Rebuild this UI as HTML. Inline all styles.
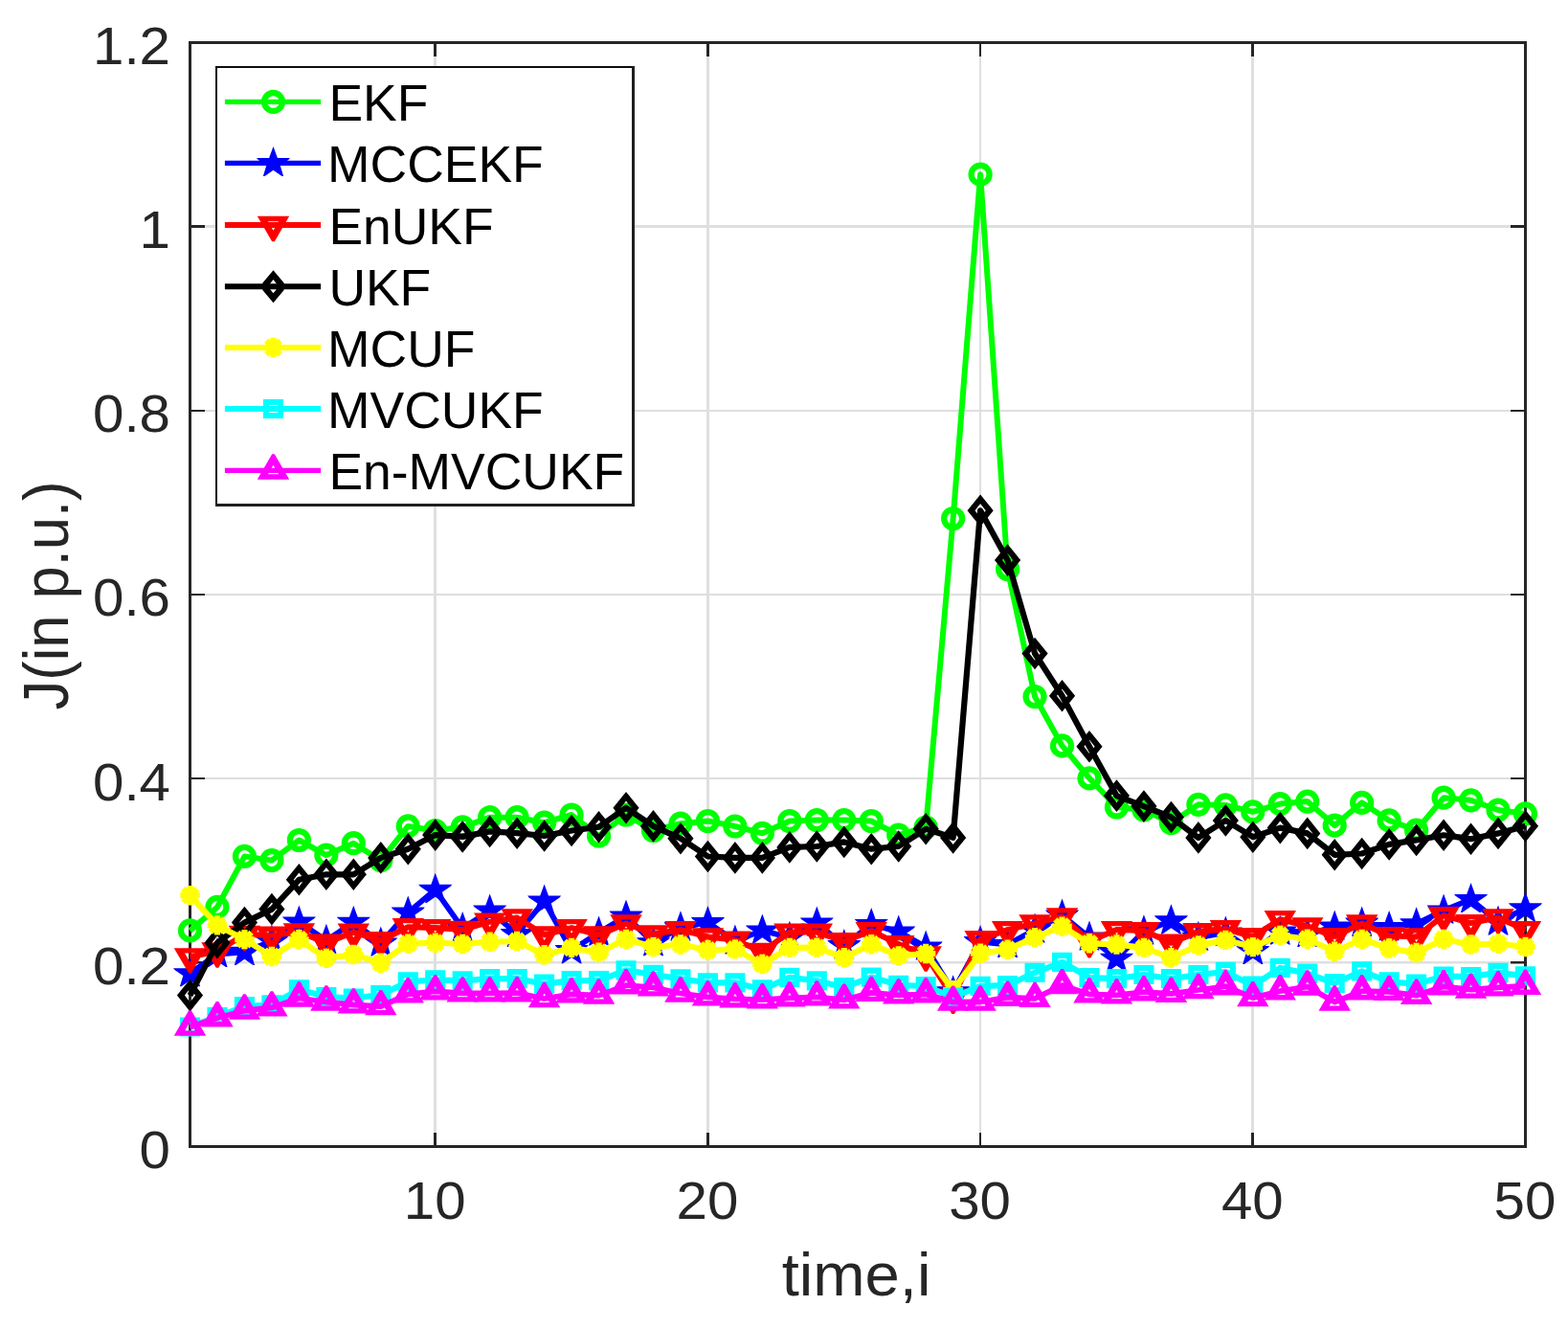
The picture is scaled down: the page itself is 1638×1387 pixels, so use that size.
<!DOCTYPE html>
<html lang="en"><head><meta charset="utf-8"><title>J (in p.u.) versus time</title>
<style>html,body{margin:0;padding:0;background:#fff}body{width:1638px;height:1387px;overflow:hidden}svg{display:block}text{font-family:"Liberation Sans",Arial,Helvetica,sans-serif}</style>
</head><body>
<svg width="1638" height="1387" viewBox="0 0 1638 1387">
<rect width="1638" height="1387" fill="#ffffff"/>
<path d="M454.5,44.5V1197.5" fill="none" stroke="#dfdfdf" stroke-width="3"/>
<path d="M739.5,44.5V1197.5" fill="none" stroke="#dfdfdf" stroke-width="3"/>
<path d="M1024,44.5V1197.5" fill="none" stroke="#dfdfdf" stroke-width="2"/>
<path d="M1308.5,44.5V1197.5" fill="none" stroke="#dfdfdf" stroke-width="3"/>
<path d="M198.5,1005.2H1593.5" fill="none" stroke="#dfdfdf" stroke-width="2.5"/>
<path d="M198.5,813H1593.5" fill="none" stroke="#dfdfdf" stroke-width="2"/>
<path d="M198.5,621H1593.5" fill="none" stroke="#dfdfdf" stroke-width="2"/>
<path d="M198.5,429H1593.5" fill="none" stroke="#dfdfdf" stroke-width="2"/>
<path d="M198.5,236.5H1593.5" fill="none" stroke="#dfdfdf" stroke-width="3"/>
<path d="M454.5,1197.5V1183M454.5,44.5V59" fill="none" stroke="#262626" stroke-width="3"/>
<path d="M739.5,1197.5V1183M739.5,44.5V59" fill="none" stroke="#262626" stroke-width="3"/>
<path d="M1024,1197.5V1183M1024,44.5V59" fill="none" stroke="#262626" stroke-width="2"/>
<path d="M1308.5,1197.5V1183M1308.5,44.5V59" fill="none" stroke="#262626" stroke-width="3"/>
<path d="M198.5,1005.2H214M1593.5,1005.2H1578" fill="none" stroke="#262626" stroke-width="2.5"/>
<path d="M198.5,813H214M1593.5,813H1578" fill="none" stroke="#262626" stroke-width="2"/>
<path d="M198.5,621H214M1593.5,621H1578" fill="none" stroke="#262626" stroke-width="2"/>
<path d="M198.5,429H214M1593.5,429H1578" fill="none" stroke="#262626" stroke-width="2"/>
<path d="M198.5,236.5H214M1593.5,236.5H1578" fill="none" stroke="#262626" stroke-width="3"/>
<rect x="198.5" y="44.5" width="1395" height="1153" fill="none" stroke="#262626" stroke-width="3"/>
<g font-size="56" fill="#262626">
<text transform="translate(454.22,1272.8) scale(1.04,1)" text-anchor="middle">10</text>
<text transform="translate(738.92,1272.8) scale(1.04,1)" text-anchor="middle">20</text>
<text transform="translate(1023.61,1272.8) scale(1.04,1)" text-anchor="middle">30</text>
<text transform="translate(1308.31,1272.8) scale(1.04,1)" text-anchor="middle">40</text>
<text transform="translate(1593,1272.8) scale(1.04,1)" text-anchor="middle">50</text>
<text transform="translate(178,1219.9) scale(1.04,1)" text-anchor="end">0</text>
<text transform="translate(178,1027.73) scale(1.04,1)" text-anchor="end">0.2</text>
<text transform="translate(178,835.57) scale(1.04,1)" text-anchor="end">0.4</text>
<text transform="translate(178,643.4) scale(1.04,1)" text-anchor="end">0.6</text>
<text transform="translate(178,451.23) scale(1.04,1)" text-anchor="end">0.8</text>
<text transform="translate(178,259.07) scale(1.04,1)" text-anchor="end">1</text>
<text transform="translate(178,66.9) scale(1.04,1)" text-anchor="end">1.2</text>
</g>
<text transform="translate(894.5,1353) scale(1.048,1)" font-size="62.2" fill="#262626" text-anchor="middle">time,i</text>
<text transform="translate(71.1,622) rotate(-90) scale(0.92,1)" font-size="66.8" fill="#262626" text-anchor="middle">J(in p.u.)</text>
<g id="s-green">
<polyline points="198.5,971.9 226.97,947.4 255.44,894.4 283.91,898.6 312.38,877.5 340.85,893.1 369.32,880.7 397.79,898.6 426.26,862.9 454.72,867.5 483.19,863.8 511.66,853.7 540.13,853.7 568.6,859.2 597.07,851 625.54,873 654.01,851 682.48,867.5 710.95,860.2 739.42,857.5 767.89,863 796.36,870.3 824.83,857.5 853.3,856.6 881.77,856.6 910.23,857.5 938.7,872.1 967.17,864 995.64,541.5 1024.11,182.2 1052.58,594.6 1081.05,727.6 1109.52,778.9 1137.99,812.8 1166.46,843 1194.93,845.8 1223.4,859.5 1251.87,840.3 1280.34,840.9 1308.81,847.9 1337.28,839.6 1365.74,837.1 1394.21,862.1 1422.68,838.3 1451.15,856.9 1479.62,867.2 1508.09,833.2 1536.56,835.8 1565.03,846 1593.5,849.9" fill="none" stroke="#00ff00" stroke-width="6" stroke-linejoin="round"/>
<circle transform="translate(198.5,971.9)" r="9.45" fill="none" stroke="#00ff00" stroke-width="6.3"/>
<circle transform="translate(226.97,947.4)" r="9.45" fill="none" stroke="#00ff00" stroke-width="6.3"/>
<circle transform="translate(255.44,894.4)" r="9.45" fill="none" stroke="#00ff00" stroke-width="6.3"/>
<circle transform="translate(283.91,898.6)" r="9.45" fill="none" stroke="#00ff00" stroke-width="6.3"/>
<circle transform="translate(312.38,877.5)" r="9.45" fill="none" stroke="#00ff00" stroke-width="6.3"/>
<circle transform="translate(340.85,893.1)" r="9.45" fill="none" stroke="#00ff00" stroke-width="6.3"/>
<circle transform="translate(369.32,880.7)" r="9.45" fill="none" stroke="#00ff00" stroke-width="6.3"/>
<circle transform="translate(397.79,898.6)" r="9.45" fill="none" stroke="#00ff00" stroke-width="6.3"/>
<circle transform="translate(426.26,862.9)" r="9.45" fill="none" stroke="#00ff00" stroke-width="6.3"/>
<circle transform="translate(454.72,867.5)" r="9.45" fill="none" stroke="#00ff00" stroke-width="6.3"/>
<circle transform="translate(483.19,863.8)" r="9.45" fill="none" stroke="#00ff00" stroke-width="6.3"/>
<circle transform="translate(511.66,853.7)" r="9.45" fill="none" stroke="#00ff00" stroke-width="6.3"/>
<circle transform="translate(540.13,853.7)" r="9.45" fill="none" stroke="#00ff00" stroke-width="6.3"/>
<circle transform="translate(568.6,859.2)" r="9.45" fill="none" stroke="#00ff00" stroke-width="6.3"/>
<circle transform="translate(597.07,851)" r="9.45" fill="none" stroke="#00ff00" stroke-width="6.3"/>
<circle transform="translate(625.54,873)" r="9.45" fill="none" stroke="#00ff00" stroke-width="6.3"/>
<circle transform="translate(654.01,851)" r="9.45" fill="none" stroke="#00ff00" stroke-width="6.3"/>
<circle transform="translate(682.48,867.5)" r="9.45" fill="none" stroke="#00ff00" stroke-width="6.3"/>
<circle transform="translate(710.95,860.2)" r="9.45" fill="none" stroke="#00ff00" stroke-width="6.3"/>
<circle transform="translate(739.42,857.5)" r="9.45" fill="none" stroke="#00ff00" stroke-width="6.3"/>
<circle transform="translate(767.89,863)" r="9.45" fill="none" stroke="#00ff00" stroke-width="6.3"/>
<circle transform="translate(796.36,870.3)" r="9.45" fill="none" stroke="#00ff00" stroke-width="6.3"/>
<circle transform="translate(824.83,857.5)" r="9.45" fill="none" stroke="#00ff00" stroke-width="6.3"/>
<circle transform="translate(853.3,856.6)" r="9.45" fill="none" stroke="#00ff00" stroke-width="6.3"/>
<circle transform="translate(881.77,856.6)" r="9.45" fill="none" stroke="#00ff00" stroke-width="6.3"/>
<circle transform="translate(910.23,857.5)" r="9.45" fill="none" stroke="#00ff00" stroke-width="6.3"/>
<circle transform="translate(938.7,872.1)" r="9.45" fill="none" stroke="#00ff00" stroke-width="6.3"/>
<circle transform="translate(967.17,864)" r="9.45" fill="none" stroke="#00ff00" stroke-width="6.3"/>
<circle transform="translate(995.64,541.5)" r="9.45" fill="none" stroke="#00ff00" stroke-width="6.3"/>
<circle transform="translate(1024.11,182.2)" r="9.45" fill="none" stroke="#00ff00" stroke-width="6.3"/>
<circle transform="translate(1052.58,594.6)" r="9.45" fill="none" stroke="#00ff00" stroke-width="6.3"/>
<circle transform="translate(1081.05,727.6)" r="9.45" fill="none" stroke="#00ff00" stroke-width="6.3"/>
<circle transform="translate(1109.52,778.9)" r="9.45" fill="none" stroke="#00ff00" stroke-width="6.3"/>
<circle transform="translate(1137.99,812.8)" r="9.45" fill="none" stroke="#00ff00" stroke-width="6.3"/>
<circle transform="translate(1166.46,843)" r="9.45" fill="none" stroke="#00ff00" stroke-width="6.3"/>
<circle transform="translate(1194.93,845.8)" r="9.45" fill="none" stroke="#00ff00" stroke-width="6.3"/>
<circle transform="translate(1223.4,859.5)" r="9.45" fill="none" stroke="#00ff00" stroke-width="6.3"/>
<circle transform="translate(1251.87,840.3)" r="9.45" fill="none" stroke="#00ff00" stroke-width="6.3"/>
<circle transform="translate(1280.34,840.9)" r="9.45" fill="none" stroke="#00ff00" stroke-width="6.3"/>
<circle transform="translate(1308.81,847.9)" r="9.45" fill="none" stroke="#00ff00" stroke-width="6.3"/>
<circle transform="translate(1337.28,839.6)" r="9.45" fill="none" stroke="#00ff00" stroke-width="6.3"/>
<circle transform="translate(1365.74,837.1)" r="9.45" fill="none" stroke="#00ff00" stroke-width="6.3"/>
<circle transform="translate(1394.21,862.1)" r="9.45" fill="none" stroke="#00ff00" stroke-width="6.3"/>
<circle transform="translate(1422.68,838.3)" r="9.45" fill="none" stroke="#00ff00" stroke-width="6.3"/>
<circle transform="translate(1451.15,856.9)" r="9.45" fill="none" stroke="#00ff00" stroke-width="6.3"/>
<circle transform="translate(1479.62,867.2)" r="9.45" fill="none" stroke="#00ff00" stroke-width="6.3"/>
<circle transform="translate(1508.09,833.2)" r="9.45" fill="none" stroke="#00ff00" stroke-width="6.3"/>
<circle transform="translate(1536.56,835.8)" r="9.45" fill="none" stroke="#00ff00" stroke-width="6.3"/>
<circle transform="translate(1565.03,846)" r="9.45" fill="none" stroke="#00ff00" stroke-width="6.3"/>
<circle transform="translate(1593.5,849.9)" r="9.45" fill="none" stroke="#00ff00" stroke-width="6.3"/>
</g>
<g id="s-blue">
<polyline points="198.5,1016.7 226.97,996.5 255.44,994.3 283.91,983 312.38,962.9 340.85,982.3 369.32,963.2 397.79,984.9 426.26,953.1 454.72,929.3 483.19,969.6 511.66,951.1 540.13,975.5 568.6,941 597.07,992.6 625.54,973.9 654.01,957.1 682.48,984.7 710.95,968.8 739.42,963.5 767.89,982.9 796.36,971.9 824.83,979.2 853.3,963.9 881.77,987.6 910.23,965.4 938.7,973.1 967.17,989 995.64,1035.8 1024.11,983.5 1052.58,986.5 1081.05,971 1109.52,956 1137.99,979 1166.46,1001.2 1194.93,972.8 1223.4,961.8 1251.87,979.2 1280.34,974.1 1308.81,993.4 1337.28,973 1365.74,975.5 1394.21,968 1422.68,964.1 1451.15,968.6 1479.62,964.8 1508.09,950.9 1536.56,939.4 1565.03,962.9 1593.5,948.8" fill="none" stroke="#0000ff" stroke-width="5.8" stroke-linejoin="round"/>
<polygon transform="translate(198.5,1016.7)" points="0,-17.5 4.4,-5.5 17.5,-5.5 16,-3.6 7.2,2.4 10.6,13.6 9,13.6 0,7.4 -9,13.6 -10.6,13.6 -7.2,2.4 -16,-3.6 -17.5,-5.5 -4.4,-5.5" fill="#0000ff"/>
<polygon transform="translate(226.97,996.5)" points="0,-17.5 4.4,-5.5 17.5,-5.5 16,-3.6 7.2,2.4 10.6,13.6 9,13.6 0,7.4 -9,13.6 -10.6,13.6 -7.2,2.4 -16,-3.6 -17.5,-5.5 -4.4,-5.5" fill="#0000ff"/>
<polygon transform="translate(255.44,994.3)" points="0,-17.5 4.4,-5.5 17.5,-5.5 16,-3.6 7.2,2.4 10.6,13.6 9,13.6 0,7.4 -9,13.6 -10.6,13.6 -7.2,2.4 -16,-3.6 -17.5,-5.5 -4.4,-5.5" fill="#0000ff"/>
<polygon transform="translate(283.91,983)" points="0,-17.5 4.4,-5.5 17.5,-5.5 16,-3.6 7.2,2.4 10.6,13.6 9,13.6 0,7.4 -9,13.6 -10.6,13.6 -7.2,2.4 -16,-3.6 -17.5,-5.5 -4.4,-5.5" fill="#0000ff"/>
<polygon transform="translate(312.38,962.9)" points="0,-17.5 4.4,-5.5 17.5,-5.5 16,-3.6 7.2,2.4 10.6,13.6 9,13.6 0,7.4 -9,13.6 -10.6,13.6 -7.2,2.4 -16,-3.6 -17.5,-5.5 -4.4,-5.5" fill="#0000ff"/>
<polygon transform="translate(340.85,982.3)" points="0,-17.5 4.4,-5.5 17.5,-5.5 16,-3.6 7.2,2.4 10.6,13.6 9,13.6 0,7.4 -9,13.6 -10.6,13.6 -7.2,2.4 -16,-3.6 -17.5,-5.5 -4.4,-5.5" fill="#0000ff"/>
<polygon transform="translate(369.32,963.2)" points="0,-17.5 4.4,-5.5 17.5,-5.5 16,-3.6 7.2,2.4 10.6,13.6 9,13.6 0,7.4 -9,13.6 -10.6,13.6 -7.2,2.4 -16,-3.6 -17.5,-5.5 -4.4,-5.5" fill="#0000ff"/>
<polygon transform="translate(397.79,984.9)" points="0,-17.5 4.4,-5.5 17.5,-5.5 16,-3.6 7.2,2.4 10.6,13.6 9,13.6 0,7.4 -9,13.6 -10.6,13.6 -7.2,2.4 -16,-3.6 -17.5,-5.5 -4.4,-5.5" fill="#0000ff"/>
<polygon transform="translate(426.26,953.1)" points="0,-17.5 4.4,-5.5 17.5,-5.5 16,-3.6 7.2,2.4 10.6,13.6 9,13.6 0,7.4 -9,13.6 -10.6,13.6 -7.2,2.4 -16,-3.6 -17.5,-5.5 -4.4,-5.5" fill="#0000ff"/>
<polygon transform="translate(454.72,929.3)" points="0,-17.5 4.4,-5.5 17.5,-5.5 16,-3.6 7.2,2.4 10.6,13.6 9,13.6 0,7.4 -9,13.6 -10.6,13.6 -7.2,2.4 -16,-3.6 -17.5,-5.5 -4.4,-5.5" fill="#0000ff"/>
<polygon transform="translate(483.19,969.6)" points="0,-17.5 4.4,-5.5 17.5,-5.5 16,-3.6 7.2,2.4 10.6,13.6 9,13.6 0,7.4 -9,13.6 -10.6,13.6 -7.2,2.4 -16,-3.6 -17.5,-5.5 -4.4,-5.5" fill="#0000ff"/>
<polygon transform="translate(511.66,951.1)" points="0,-17.5 4.4,-5.5 17.5,-5.5 16,-3.6 7.2,2.4 10.6,13.6 9,13.6 0,7.4 -9,13.6 -10.6,13.6 -7.2,2.4 -16,-3.6 -17.5,-5.5 -4.4,-5.5" fill="#0000ff"/>
<polygon transform="translate(540.13,975.5)" points="0,-17.5 4.4,-5.5 17.5,-5.5 16,-3.6 7.2,2.4 10.6,13.6 9,13.6 0,7.4 -9,13.6 -10.6,13.6 -7.2,2.4 -16,-3.6 -17.5,-5.5 -4.4,-5.5" fill="#0000ff"/>
<polygon transform="translate(568.6,941)" points="0,-17.5 4.4,-5.5 17.5,-5.5 16,-3.6 7.2,2.4 10.6,13.6 9,13.6 0,7.4 -9,13.6 -10.6,13.6 -7.2,2.4 -16,-3.6 -17.5,-5.5 -4.4,-5.5" fill="#0000ff"/>
<polygon transform="translate(597.07,992.6)" points="0,-17.5 4.4,-5.5 17.5,-5.5 16,-3.6 7.2,2.4 10.6,13.6 9,13.6 0,7.4 -9,13.6 -10.6,13.6 -7.2,2.4 -16,-3.6 -17.5,-5.5 -4.4,-5.5" fill="#0000ff"/>
<polygon transform="translate(625.54,973.9)" points="0,-17.5 4.4,-5.5 17.5,-5.5 16,-3.6 7.2,2.4 10.6,13.6 9,13.6 0,7.4 -9,13.6 -10.6,13.6 -7.2,2.4 -16,-3.6 -17.5,-5.5 -4.4,-5.5" fill="#0000ff"/>
<polygon transform="translate(654.01,957.1)" points="0,-17.5 4.4,-5.5 17.5,-5.5 16,-3.6 7.2,2.4 10.6,13.6 9,13.6 0,7.4 -9,13.6 -10.6,13.6 -7.2,2.4 -16,-3.6 -17.5,-5.5 -4.4,-5.5" fill="#0000ff"/>
<polygon transform="translate(682.48,984.7)" points="0,-17.5 4.4,-5.5 17.5,-5.5 16,-3.6 7.2,2.4 10.6,13.6 9,13.6 0,7.4 -9,13.6 -10.6,13.6 -7.2,2.4 -16,-3.6 -17.5,-5.5 -4.4,-5.5" fill="#0000ff"/>
<polygon transform="translate(710.95,968.8)" points="0,-17.5 4.4,-5.5 17.5,-5.5 16,-3.6 7.2,2.4 10.6,13.6 9,13.6 0,7.4 -9,13.6 -10.6,13.6 -7.2,2.4 -16,-3.6 -17.5,-5.5 -4.4,-5.5" fill="#0000ff"/>
<polygon transform="translate(739.42,963.5)" points="0,-17.5 4.4,-5.5 17.5,-5.5 16,-3.6 7.2,2.4 10.6,13.6 9,13.6 0,7.4 -9,13.6 -10.6,13.6 -7.2,2.4 -16,-3.6 -17.5,-5.5 -4.4,-5.5" fill="#0000ff"/>
<polygon transform="translate(767.89,982.9)" points="0,-17.5 4.4,-5.5 17.5,-5.5 16,-3.6 7.2,2.4 10.6,13.6 9,13.6 0,7.4 -9,13.6 -10.6,13.6 -7.2,2.4 -16,-3.6 -17.5,-5.5 -4.4,-5.5" fill="#0000ff"/>
<polygon transform="translate(796.36,971.9)" points="0,-17.5 4.4,-5.5 17.5,-5.5 16,-3.6 7.2,2.4 10.6,13.6 9,13.6 0,7.4 -9,13.6 -10.6,13.6 -7.2,2.4 -16,-3.6 -17.5,-5.5 -4.4,-5.5" fill="#0000ff"/>
<polygon transform="translate(824.83,979.2)" points="0,-17.5 4.4,-5.5 17.5,-5.5 16,-3.6 7.2,2.4 10.6,13.6 9,13.6 0,7.4 -9,13.6 -10.6,13.6 -7.2,2.4 -16,-3.6 -17.5,-5.5 -4.4,-5.5" fill="#0000ff"/>
<polygon transform="translate(853.3,963.9)" points="0,-17.5 4.4,-5.5 17.5,-5.5 16,-3.6 7.2,2.4 10.6,13.6 9,13.6 0,7.4 -9,13.6 -10.6,13.6 -7.2,2.4 -16,-3.6 -17.5,-5.5 -4.4,-5.5" fill="#0000ff"/>
<polygon transform="translate(881.77,987.6)" points="0,-17.5 4.4,-5.5 17.5,-5.5 16,-3.6 7.2,2.4 10.6,13.6 9,13.6 0,7.4 -9,13.6 -10.6,13.6 -7.2,2.4 -16,-3.6 -17.5,-5.5 -4.4,-5.5" fill="#0000ff"/>
<polygon transform="translate(910.23,965.4)" points="0,-17.5 4.4,-5.5 17.5,-5.5 16,-3.6 7.2,2.4 10.6,13.6 9,13.6 0,7.4 -9,13.6 -10.6,13.6 -7.2,2.4 -16,-3.6 -17.5,-5.5 -4.4,-5.5" fill="#0000ff"/>
<polygon transform="translate(938.7,973.1)" points="0,-17.5 4.4,-5.5 17.5,-5.5 16,-3.6 7.2,2.4 10.6,13.6 9,13.6 0,7.4 -9,13.6 -10.6,13.6 -7.2,2.4 -16,-3.6 -17.5,-5.5 -4.4,-5.5" fill="#0000ff"/>
<polygon transform="translate(967.17,989)" points="0,-17.5 4.4,-5.5 17.5,-5.5 16,-3.6 7.2,2.4 10.6,13.6 9,13.6 0,7.4 -9,13.6 -10.6,13.6 -7.2,2.4 -16,-3.6 -17.5,-5.5 -4.4,-5.5" fill="#0000ff"/>
<polygon transform="translate(995.64,1035.8)" points="0,-17.5 4.4,-5.5 17.5,-5.5 16,-3.6 7.2,2.4 10.6,13.6 9,13.6 0,7.4 -9,13.6 -10.6,13.6 -7.2,2.4 -16,-3.6 -17.5,-5.5 -4.4,-5.5" fill="#0000ff"/>
<polygon transform="translate(1024.11,983.5)" points="0,-17.5 4.4,-5.5 17.5,-5.5 16,-3.6 7.2,2.4 10.6,13.6 9,13.6 0,7.4 -9,13.6 -10.6,13.6 -7.2,2.4 -16,-3.6 -17.5,-5.5 -4.4,-5.5" fill="#0000ff"/>
<polygon transform="translate(1052.58,986.5)" points="0,-17.5 4.4,-5.5 17.5,-5.5 16,-3.6 7.2,2.4 10.6,13.6 9,13.6 0,7.4 -9,13.6 -10.6,13.6 -7.2,2.4 -16,-3.6 -17.5,-5.5 -4.4,-5.5" fill="#0000ff"/>
<polygon transform="translate(1081.05,971)" points="0,-17.5 4.4,-5.5 17.5,-5.5 16,-3.6 7.2,2.4 10.6,13.6 9,13.6 0,7.4 -9,13.6 -10.6,13.6 -7.2,2.4 -16,-3.6 -17.5,-5.5 -4.4,-5.5" fill="#0000ff"/>
<polygon transform="translate(1109.52,956)" points="0,-17.5 4.4,-5.5 17.5,-5.5 16,-3.6 7.2,2.4 10.6,13.6 9,13.6 0,7.4 -9,13.6 -10.6,13.6 -7.2,2.4 -16,-3.6 -17.5,-5.5 -4.4,-5.5" fill="#0000ff"/>
<polygon transform="translate(1137.99,979)" points="0,-17.5 4.4,-5.5 17.5,-5.5 16,-3.6 7.2,2.4 10.6,13.6 9,13.6 0,7.4 -9,13.6 -10.6,13.6 -7.2,2.4 -16,-3.6 -17.5,-5.5 -4.4,-5.5" fill="#0000ff"/>
<polygon transform="translate(1166.46,1001.2)" points="0,-17.5 4.4,-5.5 17.5,-5.5 16,-3.6 7.2,2.4 10.6,13.6 9,13.6 0,7.4 -9,13.6 -10.6,13.6 -7.2,2.4 -16,-3.6 -17.5,-5.5 -4.4,-5.5" fill="#0000ff"/>
<polygon transform="translate(1194.93,972.8)" points="0,-17.5 4.4,-5.5 17.5,-5.5 16,-3.6 7.2,2.4 10.6,13.6 9,13.6 0,7.4 -9,13.6 -10.6,13.6 -7.2,2.4 -16,-3.6 -17.5,-5.5 -4.4,-5.5" fill="#0000ff"/>
<polygon transform="translate(1223.4,961.8)" points="0,-17.5 4.4,-5.5 17.5,-5.5 16,-3.6 7.2,2.4 10.6,13.6 9,13.6 0,7.4 -9,13.6 -10.6,13.6 -7.2,2.4 -16,-3.6 -17.5,-5.5 -4.4,-5.5" fill="#0000ff"/>
<polygon transform="translate(1251.87,979.2)" points="0,-17.5 4.4,-5.5 17.5,-5.5 16,-3.6 7.2,2.4 10.6,13.6 9,13.6 0,7.4 -9,13.6 -10.6,13.6 -7.2,2.4 -16,-3.6 -17.5,-5.5 -4.4,-5.5" fill="#0000ff"/>
<polygon transform="translate(1280.34,974.1)" points="0,-17.5 4.4,-5.5 17.5,-5.5 16,-3.6 7.2,2.4 10.6,13.6 9,13.6 0,7.4 -9,13.6 -10.6,13.6 -7.2,2.4 -16,-3.6 -17.5,-5.5 -4.4,-5.5" fill="#0000ff"/>
<polygon transform="translate(1308.81,993.4)" points="0,-17.5 4.4,-5.5 17.5,-5.5 16,-3.6 7.2,2.4 10.6,13.6 9,13.6 0,7.4 -9,13.6 -10.6,13.6 -7.2,2.4 -16,-3.6 -17.5,-5.5 -4.4,-5.5" fill="#0000ff"/>
<polygon transform="translate(1337.28,973)" points="0,-17.5 4.4,-5.5 17.5,-5.5 16,-3.6 7.2,2.4 10.6,13.6 9,13.6 0,7.4 -9,13.6 -10.6,13.6 -7.2,2.4 -16,-3.6 -17.5,-5.5 -4.4,-5.5" fill="#0000ff"/>
<polygon transform="translate(1365.74,975.5)" points="0,-17.5 4.4,-5.5 17.5,-5.5 16,-3.6 7.2,2.4 10.6,13.6 9,13.6 0,7.4 -9,13.6 -10.6,13.6 -7.2,2.4 -16,-3.6 -17.5,-5.5 -4.4,-5.5" fill="#0000ff"/>
<polygon transform="translate(1394.21,968)" points="0,-17.5 4.4,-5.5 17.5,-5.5 16,-3.6 7.2,2.4 10.6,13.6 9,13.6 0,7.4 -9,13.6 -10.6,13.6 -7.2,2.4 -16,-3.6 -17.5,-5.5 -4.4,-5.5" fill="#0000ff"/>
<polygon transform="translate(1422.68,964.1)" points="0,-17.5 4.4,-5.5 17.5,-5.5 16,-3.6 7.2,2.4 10.6,13.6 9,13.6 0,7.4 -9,13.6 -10.6,13.6 -7.2,2.4 -16,-3.6 -17.5,-5.5 -4.4,-5.5" fill="#0000ff"/>
<polygon transform="translate(1451.15,968.6)" points="0,-17.5 4.4,-5.5 17.5,-5.5 16,-3.6 7.2,2.4 10.6,13.6 9,13.6 0,7.4 -9,13.6 -10.6,13.6 -7.2,2.4 -16,-3.6 -17.5,-5.5 -4.4,-5.5" fill="#0000ff"/>
<polygon transform="translate(1479.62,964.8)" points="0,-17.5 4.4,-5.5 17.5,-5.5 16,-3.6 7.2,2.4 10.6,13.6 9,13.6 0,7.4 -9,13.6 -10.6,13.6 -7.2,2.4 -16,-3.6 -17.5,-5.5 -4.4,-5.5" fill="#0000ff"/>
<polygon transform="translate(1508.09,950.9)" points="0,-17.5 4.4,-5.5 17.5,-5.5 16,-3.6 7.2,2.4 10.6,13.6 9,13.6 0,7.4 -9,13.6 -10.6,13.6 -7.2,2.4 -16,-3.6 -17.5,-5.5 -4.4,-5.5" fill="#0000ff"/>
<polygon transform="translate(1536.56,939.4)" points="0,-17.5 4.4,-5.5 17.5,-5.5 16,-3.6 7.2,2.4 10.6,13.6 9,13.6 0,7.4 -9,13.6 -10.6,13.6 -7.2,2.4 -16,-3.6 -17.5,-5.5 -4.4,-5.5" fill="#0000ff"/>
<polygon transform="translate(1565.03,962.9)" points="0,-17.5 4.4,-5.5 17.5,-5.5 16,-3.6 7.2,2.4 10.6,13.6 9,13.6 0,7.4 -9,13.6 -10.6,13.6 -7.2,2.4 -16,-3.6 -17.5,-5.5 -4.4,-5.5" fill="#0000ff"/>
<polygon transform="translate(1593.5,948.8)" points="0,-17.5 4.4,-5.5 17.5,-5.5 16,-3.6 7.2,2.4 10.6,13.6 9,13.6 0,7.4 -9,13.6 -10.6,13.6 -7.2,2.4 -16,-3.6 -17.5,-5.5 -4.4,-5.5" fill="#0000ff"/>
</g>
<g id="s-red">
<polyline points="198.5,999.4 226.97,993.5 255.44,976 283.91,976.8 312.38,973.4 340.85,984.7 369.32,973.7 397.79,982.3 426.26,968.2 454.72,969.1 483.19,971 511.66,962.7 540.13,958.5 568.6,976.4 597.07,969.1 625.54,976.4 654.01,964.5 682.48,975.5 710.95,971.2 739.42,978.4 767.89,981.8 796.36,993.9 824.83,973.6 853.3,973.6 881.77,983.1 910.23,972.2 938.7,986.1 967.17,997.5 995.64,1041.8 1024.11,981.2 1052.58,971.1 1081.05,964.4 1109.52,957.4 1137.99,983.2 1166.46,971.1 1194.93,972.1 1223.4,984.8 1251.87,973.3 1280.34,970.2 1308.81,978.3 1337.28,960.2 1365.74,967.4 1394.21,978.1 1422.68,964.4 1451.15,977.2 1479.62,978.4 1508.09,956.2 1536.56,964.1 1565.03,958.4 1593.5,971.1" fill="none" stroke="#ff0000" stroke-width="6" stroke-linejoin="round"/>
<path transform="translate(198.5,999.4)" d="M-16.7,-9.2L16.7,-9.2L1.3,17.2L-1.3,17.2ZM-5.5,-3.9L5.5,-3.9L0,5.6Z" fill="#ff0000" fill-rule="evenodd"/>
<path transform="translate(226.97,993.5)" d="M-16.7,-9.2L16.7,-9.2L1.3,17.2L-1.3,17.2ZM-5.5,-3.9L5.5,-3.9L0,5.6Z" fill="#ff0000" fill-rule="evenodd"/>
<path transform="translate(255.44,976)" d="M-16.7,-9.2L16.7,-9.2L1.3,17.2L-1.3,17.2ZM-5.5,-3.9L5.5,-3.9L0,5.6Z" fill="#ff0000" fill-rule="evenodd"/>
<path transform="translate(283.91,976.8)" d="M-16.7,-9.2L16.7,-9.2L1.3,17.2L-1.3,17.2ZM-5.5,-3.9L5.5,-3.9L0,5.6Z" fill="#ff0000" fill-rule="evenodd"/>
<path transform="translate(312.38,973.4)" d="M-16.7,-9.2L16.7,-9.2L1.3,17.2L-1.3,17.2ZM-5.5,-3.9L5.5,-3.9L0,5.6Z" fill="#ff0000" fill-rule="evenodd"/>
<path transform="translate(340.85,984.7)" d="M-16.7,-9.2L16.7,-9.2L1.3,17.2L-1.3,17.2ZM-5.5,-3.9L5.5,-3.9L0,5.6Z" fill="#ff0000" fill-rule="evenodd"/>
<path transform="translate(369.32,973.7)" d="M-16.7,-9.2L16.7,-9.2L1.3,17.2L-1.3,17.2ZM-5.5,-3.9L5.5,-3.9L0,5.6Z" fill="#ff0000" fill-rule="evenodd"/>
<path transform="translate(397.79,982.3)" d="M-16.7,-9.2L16.7,-9.2L1.3,17.2L-1.3,17.2ZM-5.5,-3.9L5.5,-3.9L0,5.6Z" fill="#ff0000" fill-rule="evenodd"/>
<path transform="translate(426.26,968.2)" d="M-16.7,-9.2L16.7,-9.2L1.3,17.2L-1.3,17.2ZM-5.5,-3.9L5.5,-3.9L0,5.6Z" fill="#ff0000" fill-rule="evenodd"/>
<path transform="translate(454.72,969.1)" d="M-16.7,-9.2L16.7,-9.2L1.3,17.2L-1.3,17.2ZM-5.5,-3.9L5.5,-3.9L0,5.6Z" fill="#ff0000" fill-rule="evenodd"/>
<path transform="translate(483.19,971)" d="M-16.7,-9.2L16.7,-9.2L1.3,17.2L-1.3,17.2ZM-5.5,-3.9L5.5,-3.9L0,5.6Z" fill="#ff0000" fill-rule="evenodd"/>
<path transform="translate(511.66,962.7)" d="M-16.7,-9.2L16.7,-9.2L1.3,17.2L-1.3,17.2ZM-5.5,-3.9L5.5,-3.9L0,5.6Z" fill="#ff0000" fill-rule="evenodd"/>
<path transform="translate(540.13,958.5)" d="M-16.7,-9.2L16.7,-9.2L1.3,17.2L-1.3,17.2ZM-5.5,-3.9L5.5,-3.9L0,5.6Z" fill="#ff0000" fill-rule="evenodd"/>
<path transform="translate(568.6,976.4)" d="M-16.7,-9.2L16.7,-9.2L1.3,17.2L-1.3,17.2ZM-5.5,-3.9L5.5,-3.9L0,5.6Z" fill="#ff0000" fill-rule="evenodd"/>
<path transform="translate(597.07,969.1)" d="M-16.7,-9.2L16.7,-9.2L1.3,17.2L-1.3,17.2ZM-5.5,-3.9L5.5,-3.9L0,5.6Z" fill="#ff0000" fill-rule="evenodd"/>
<path transform="translate(625.54,976.4)" d="M-16.7,-9.2L16.7,-9.2L1.3,17.2L-1.3,17.2ZM-5.5,-3.9L5.5,-3.9L0,5.6Z" fill="#ff0000" fill-rule="evenodd"/>
<path transform="translate(654.01,964.5)" d="M-16.7,-9.2L16.7,-9.2L1.3,17.2L-1.3,17.2ZM-5.5,-3.9L5.5,-3.9L0,5.6Z" fill="#ff0000" fill-rule="evenodd"/>
<path transform="translate(682.48,975.5)" d="M-16.7,-9.2L16.7,-9.2L1.3,17.2L-1.3,17.2ZM-5.5,-3.9L5.5,-3.9L0,5.6Z" fill="#ff0000" fill-rule="evenodd"/>
<path transform="translate(710.95,971.2)" d="M-16.7,-9.2L16.7,-9.2L1.3,17.2L-1.3,17.2ZM-5.5,-3.9L5.5,-3.9L0,5.6Z" fill="#ff0000" fill-rule="evenodd"/>
<path transform="translate(739.42,978.4)" d="M-16.7,-9.2L16.7,-9.2L1.3,17.2L-1.3,17.2ZM-5.5,-3.9L5.5,-3.9L0,5.6Z" fill="#ff0000" fill-rule="evenodd"/>
<path transform="translate(767.89,981.8)" d="M-16.7,-9.2L16.7,-9.2L1.3,17.2L-1.3,17.2ZM-5.5,-3.9L5.5,-3.9L0,5.6Z" fill="#ff0000" fill-rule="evenodd"/>
<path transform="translate(796.36,993.9)" d="M-16.7,-9.2L16.7,-9.2L1.3,17.2L-1.3,17.2ZM-5.5,-3.9L5.5,-3.9L0,5.6Z" fill="#ff0000" fill-rule="evenodd"/>
<path transform="translate(824.83,973.6)" d="M-16.7,-9.2L16.7,-9.2L1.3,17.2L-1.3,17.2ZM-5.5,-3.9L5.5,-3.9L0,5.6Z" fill="#ff0000" fill-rule="evenodd"/>
<path transform="translate(853.3,973.6)" d="M-16.7,-9.2L16.7,-9.2L1.3,17.2L-1.3,17.2ZM-5.5,-3.9L5.5,-3.9L0,5.6Z" fill="#ff0000" fill-rule="evenodd"/>
<path transform="translate(881.77,983.1)" d="M-16.7,-9.2L16.7,-9.2L1.3,17.2L-1.3,17.2ZM-5.5,-3.9L5.5,-3.9L0,5.6Z" fill="#ff0000" fill-rule="evenodd"/>
<path transform="translate(910.23,972.2)" d="M-16.7,-9.2L16.7,-9.2L1.3,17.2L-1.3,17.2ZM-5.5,-3.9L5.5,-3.9L0,5.6Z" fill="#ff0000" fill-rule="evenodd"/>
<path transform="translate(938.7,986.1)" d="M-16.7,-9.2L16.7,-9.2L1.3,17.2L-1.3,17.2ZM-5.5,-3.9L5.5,-3.9L0,5.6Z" fill="#ff0000" fill-rule="evenodd"/>
<path transform="translate(967.17,997.5)" d="M-16.7,-9.2L16.7,-9.2L1.3,17.2L-1.3,17.2ZM-5.5,-3.9L5.5,-3.9L0,5.6Z" fill="#ff0000" fill-rule="evenodd"/>
<path transform="translate(995.64,1041.8)" d="M-16.7,-9.2L16.7,-9.2L1.3,17.2L-1.3,17.2ZM-5.5,-3.9L5.5,-3.9L0,5.6Z" fill="#ff0000" fill-rule="evenodd"/>
<path transform="translate(1024.11,981.2)" d="M-16.7,-9.2L16.7,-9.2L1.3,17.2L-1.3,17.2ZM-5.5,-3.9L5.5,-3.9L0,5.6Z" fill="#ff0000" fill-rule="evenodd"/>
<path transform="translate(1052.58,971.1)" d="M-16.7,-9.2L16.7,-9.2L1.3,17.2L-1.3,17.2ZM-5.5,-3.9L5.5,-3.9L0,5.6Z" fill="#ff0000" fill-rule="evenodd"/>
<path transform="translate(1081.05,964.4)" d="M-16.7,-9.2L16.7,-9.2L1.3,17.2L-1.3,17.2ZM-5.5,-3.9L5.5,-3.9L0,5.6Z" fill="#ff0000" fill-rule="evenodd"/>
<path transform="translate(1109.52,957.4)" d="M-16.7,-9.2L16.7,-9.2L1.3,17.2L-1.3,17.2ZM-5.5,-3.9L5.5,-3.9L0,5.6Z" fill="#ff0000" fill-rule="evenodd"/>
<path transform="translate(1137.99,983.2)" d="M-16.7,-9.2L16.7,-9.2L1.3,17.2L-1.3,17.2ZM-5.5,-3.9L5.5,-3.9L0,5.6Z" fill="#ff0000" fill-rule="evenodd"/>
<path transform="translate(1166.46,971.1)" d="M-16.7,-9.2L16.7,-9.2L1.3,17.2L-1.3,17.2ZM-5.5,-3.9L5.5,-3.9L0,5.6Z" fill="#ff0000" fill-rule="evenodd"/>
<path transform="translate(1194.93,972.1)" d="M-16.7,-9.2L16.7,-9.2L1.3,17.2L-1.3,17.2ZM-5.5,-3.9L5.5,-3.9L0,5.6Z" fill="#ff0000" fill-rule="evenodd"/>
<path transform="translate(1223.4,984.8)" d="M-16.7,-9.2L16.7,-9.2L1.3,17.2L-1.3,17.2ZM-5.5,-3.9L5.5,-3.9L0,5.6Z" fill="#ff0000" fill-rule="evenodd"/>
<path transform="translate(1251.87,973.3)" d="M-16.7,-9.2L16.7,-9.2L1.3,17.2L-1.3,17.2ZM-5.5,-3.9L5.5,-3.9L0,5.6Z" fill="#ff0000" fill-rule="evenodd"/>
<path transform="translate(1280.34,970.2)" d="M-16.7,-9.2L16.7,-9.2L1.3,17.2L-1.3,17.2ZM-5.5,-3.9L5.5,-3.9L0,5.6Z" fill="#ff0000" fill-rule="evenodd"/>
<path transform="translate(1308.81,978.3)" d="M-16.7,-9.2L16.7,-9.2L1.3,17.2L-1.3,17.2ZM-5.5,-3.9L5.5,-3.9L0,5.6Z" fill="#ff0000" fill-rule="evenodd"/>
<path transform="translate(1337.28,960.2)" d="M-16.7,-9.2L16.7,-9.2L1.3,17.2L-1.3,17.2ZM-5.5,-3.9L5.5,-3.9L0,5.6Z" fill="#ff0000" fill-rule="evenodd"/>
<path transform="translate(1365.74,967.4)" d="M-16.7,-9.2L16.7,-9.2L1.3,17.2L-1.3,17.2ZM-5.5,-3.9L5.5,-3.9L0,5.6Z" fill="#ff0000" fill-rule="evenodd"/>
<path transform="translate(1394.21,978.1)" d="M-16.7,-9.2L16.7,-9.2L1.3,17.2L-1.3,17.2ZM-5.5,-3.9L5.5,-3.9L0,5.6Z" fill="#ff0000" fill-rule="evenodd"/>
<path transform="translate(1422.68,964.4)" d="M-16.7,-9.2L16.7,-9.2L1.3,17.2L-1.3,17.2ZM-5.5,-3.9L5.5,-3.9L0,5.6Z" fill="#ff0000" fill-rule="evenodd"/>
<path transform="translate(1451.15,977.2)" d="M-16.7,-9.2L16.7,-9.2L1.3,17.2L-1.3,17.2ZM-5.5,-3.9L5.5,-3.9L0,5.6Z" fill="#ff0000" fill-rule="evenodd"/>
<path transform="translate(1479.62,978.4)" d="M-16.7,-9.2L16.7,-9.2L1.3,17.2L-1.3,17.2ZM-5.5,-3.9L5.5,-3.9L0,5.6Z" fill="#ff0000" fill-rule="evenodd"/>
<path transform="translate(1508.09,956.2)" d="M-16.7,-9.2L16.7,-9.2L1.3,17.2L-1.3,17.2ZM-5.5,-3.9L5.5,-3.9L0,5.6Z" fill="#ff0000" fill-rule="evenodd"/>
<path transform="translate(1536.56,964.1)" d="M-16.7,-9.2L16.7,-9.2L1.3,17.2L-1.3,17.2ZM-5.5,-3.9L5.5,-3.9L0,5.6Z" fill="#ff0000" fill-rule="evenodd"/>
<path transform="translate(1565.03,958.4)" d="M-16.7,-9.2L16.7,-9.2L1.3,17.2L-1.3,17.2ZM-5.5,-3.9L5.5,-3.9L0,5.6Z" fill="#ff0000" fill-rule="evenodd"/>
<path transform="translate(1593.5,971.1)" d="M-16.7,-9.2L16.7,-9.2L1.3,17.2L-1.3,17.2ZM-5.5,-3.9L5.5,-3.9L0,5.6Z" fill="#ff0000" fill-rule="evenodd"/>
</g>
<g id="s-black">
<polyline points="198.5,1039.6 226.97,984.7 255.44,963.6 283.91,949.6 312.38,918.8 340.85,913.3 369.32,913.3 397.79,895.9 426.26,886.7 454.72,872.1 483.19,873.9 511.66,868.4 540.13,870.2 568.6,873 597.07,867.5 625.54,863.8 654.01,843.7 682.48,862.9 710.95,875.7 739.42,894.5 767.89,895.9 796.36,895.9 824.83,884.9 853.3,884 881.77,879.4 910.23,886.7 938.7,884 967.17,865.8 995.64,874.9 1024.11,533.3 1052.58,585.1 1081.05,682.5 1109.52,726.7 1137.99,779.8 1166.46,831.1 1194.93,842.1 1223.4,853.5 1251.87,874.9 1280.34,856.9 1308.81,874.2 1337.28,864.6 1365.74,870.4 1394.21,892.8 1422.68,891.5 1451.15,881.9 1479.62,877.4 1508.09,872.3 1536.56,876.2 1565.03,870.4 1593.5,862.7" fill="none" stroke="#000000" stroke-width="6.2" stroke-linejoin="round"/>
<path transform="translate(198.5,1039.6)" d="M0,-16.8L13.6,0L0,16.8L-13.6,0ZM0,-7.2L5.6,0L0,7.2L-5.6,0Z" fill="#000000" fill-rule="evenodd"/>
<path transform="translate(226.97,984.7)" d="M0,-16.8L13.6,0L0,16.8L-13.6,0ZM0,-7.2L5.6,0L0,7.2L-5.6,0Z" fill="#000000" fill-rule="evenodd"/>
<path transform="translate(255.44,963.6)" d="M0,-16.8L13.6,0L0,16.8L-13.6,0ZM0,-7.2L5.6,0L0,7.2L-5.6,0Z" fill="#000000" fill-rule="evenodd"/>
<path transform="translate(283.91,949.6)" d="M0,-16.8L13.6,0L0,16.8L-13.6,0ZM0,-7.2L5.6,0L0,7.2L-5.6,0Z" fill="#000000" fill-rule="evenodd"/>
<path transform="translate(312.38,918.8)" d="M0,-16.8L13.6,0L0,16.8L-13.6,0ZM0,-7.2L5.6,0L0,7.2L-5.6,0Z" fill="#000000" fill-rule="evenodd"/>
<path transform="translate(340.85,913.3)" d="M0,-16.8L13.6,0L0,16.8L-13.6,0ZM0,-7.2L5.6,0L0,7.2L-5.6,0Z" fill="#000000" fill-rule="evenodd"/>
<path transform="translate(369.32,913.3)" d="M0,-16.8L13.6,0L0,16.8L-13.6,0ZM0,-7.2L5.6,0L0,7.2L-5.6,0Z" fill="#000000" fill-rule="evenodd"/>
<path transform="translate(397.79,895.9)" d="M0,-16.8L13.6,0L0,16.8L-13.6,0ZM0,-7.2L5.6,0L0,7.2L-5.6,0Z" fill="#000000" fill-rule="evenodd"/>
<path transform="translate(426.26,886.7)" d="M0,-16.8L13.6,0L0,16.8L-13.6,0ZM0,-7.2L5.6,0L0,7.2L-5.6,0Z" fill="#000000" fill-rule="evenodd"/>
<path transform="translate(454.72,872.1)" d="M0,-16.8L13.6,0L0,16.8L-13.6,0ZM0,-7.2L5.6,0L0,7.2L-5.6,0Z" fill="#000000" fill-rule="evenodd"/>
<path transform="translate(483.19,873.9)" d="M0,-16.8L13.6,0L0,16.8L-13.6,0ZM0,-7.2L5.6,0L0,7.2L-5.6,0Z" fill="#000000" fill-rule="evenodd"/>
<path transform="translate(511.66,868.4)" d="M0,-16.8L13.6,0L0,16.8L-13.6,0ZM0,-7.2L5.6,0L0,7.2L-5.6,0Z" fill="#000000" fill-rule="evenodd"/>
<path transform="translate(540.13,870.2)" d="M0,-16.8L13.6,0L0,16.8L-13.6,0ZM0,-7.2L5.6,0L0,7.2L-5.6,0Z" fill="#000000" fill-rule="evenodd"/>
<path transform="translate(568.6,873)" d="M0,-16.8L13.6,0L0,16.8L-13.6,0ZM0,-7.2L5.6,0L0,7.2L-5.6,0Z" fill="#000000" fill-rule="evenodd"/>
<path transform="translate(597.07,867.5)" d="M0,-16.8L13.6,0L0,16.8L-13.6,0ZM0,-7.2L5.6,0L0,7.2L-5.6,0Z" fill="#000000" fill-rule="evenodd"/>
<path transform="translate(625.54,863.8)" d="M0,-16.8L13.6,0L0,16.8L-13.6,0ZM0,-7.2L5.6,0L0,7.2L-5.6,0Z" fill="#000000" fill-rule="evenodd"/>
<path transform="translate(654.01,843.7)" d="M0,-16.8L13.6,0L0,16.8L-13.6,0ZM0,-7.2L5.6,0L0,7.2L-5.6,0Z" fill="#000000" fill-rule="evenodd"/>
<path transform="translate(682.48,862.9)" d="M0,-16.8L13.6,0L0,16.8L-13.6,0ZM0,-7.2L5.6,0L0,7.2L-5.6,0Z" fill="#000000" fill-rule="evenodd"/>
<path transform="translate(710.95,875.7)" d="M0,-16.8L13.6,0L0,16.8L-13.6,0ZM0,-7.2L5.6,0L0,7.2L-5.6,0Z" fill="#000000" fill-rule="evenodd"/>
<path transform="translate(739.42,894.5)" d="M0,-16.8L13.6,0L0,16.8L-13.6,0ZM0,-7.2L5.6,0L0,7.2L-5.6,0Z" fill="#000000" fill-rule="evenodd"/>
<path transform="translate(767.89,895.9)" d="M0,-16.8L13.6,0L0,16.8L-13.6,0ZM0,-7.2L5.6,0L0,7.2L-5.6,0Z" fill="#000000" fill-rule="evenodd"/>
<path transform="translate(796.36,895.9)" d="M0,-16.8L13.6,0L0,16.8L-13.6,0ZM0,-7.2L5.6,0L0,7.2L-5.6,0Z" fill="#000000" fill-rule="evenodd"/>
<path transform="translate(824.83,884.9)" d="M0,-16.8L13.6,0L0,16.8L-13.6,0ZM0,-7.2L5.6,0L0,7.2L-5.6,0Z" fill="#000000" fill-rule="evenodd"/>
<path transform="translate(853.3,884)" d="M0,-16.8L13.6,0L0,16.8L-13.6,0ZM0,-7.2L5.6,0L0,7.2L-5.6,0Z" fill="#000000" fill-rule="evenodd"/>
<path transform="translate(881.77,879.4)" d="M0,-16.8L13.6,0L0,16.8L-13.6,0ZM0,-7.2L5.6,0L0,7.2L-5.6,0Z" fill="#000000" fill-rule="evenodd"/>
<path transform="translate(910.23,886.7)" d="M0,-16.8L13.6,0L0,16.8L-13.6,0ZM0,-7.2L5.6,0L0,7.2L-5.6,0Z" fill="#000000" fill-rule="evenodd"/>
<path transform="translate(938.7,884)" d="M0,-16.8L13.6,0L0,16.8L-13.6,0ZM0,-7.2L5.6,0L0,7.2L-5.6,0Z" fill="#000000" fill-rule="evenodd"/>
<path transform="translate(967.17,865.8)" d="M0,-16.8L13.6,0L0,16.8L-13.6,0ZM0,-7.2L5.6,0L0,7.2L-5.6,0Z" fill="#000000" fill-rule="evenodd"/>
<path transform="translate(995.64,874.9)" d="M0,-16.8L13.6,0L0,16.8L-13.6,0ZM0,-7.2L5.6,0L0,7.2L-5.6,0Z" fill="#000000" fill-rule="evenodd"/>
<path transform="translate(1024.11,533.3)" d="M0,-16.8L13.6,0L0,16.8L-13.6,0ZM0,-7.2L5.6,0L0,7.2L-5.6,0Z" fill="#000000" fill-rule="evenodd"/>
<path transform="translate(1052.58,585.1)" d="M0,-16.8L13.6,0L0,16.8L-13.6,0ZM0,-7.2L5.6,0L0,7.2L-5.6,0Z" fill="#000000" fill-rule="evenodd"/>
<path transform="translate(1081.05,682.5)" d="M0,-16.8L13.6,0L0,16.8L-13.6,0ZM0,-7.2L5.6,0L0,7.2L-5.6,0Z" fill="#000000" fill-rule="evenodd"/>
<path transform="translate(1109.52,726.7)" d="M0,-16.8L13.6,0L0,16.8L-13.6,0ZM0,-7.2L5.6,0L0,7.2L-5.6,0Z" fill="#000000" fill-rule="evenodd"/>
<path transform="translate(1137.99,779.8)" d="M0,-16.8L13.6,0L0,16.8L-13.6,0ZM0,-7.2L5.6,0L0,7.2L-5.6,0Z" fill="#000000" fill-rule="evenodd"/>
<path transform="translate(1166.46,831.1)" d="M0,-16.8L13.6,0L0,16.8L-13.6,0ZM0,-7.2L5.6,0L0,7.2L-5.6,0Z" fill="#000000" fill-rule="evenodd"/>
<path transform="translate(1194.93,842.1)" d="M0,-16.8L13.6,0L0,16.8L-13.6,0ZM0,-7.2L5.6,0L0,7.2L-5.6,0Z" fill="#000000" fill-rule="evenodd"/>
<path transform="translate(1223.4,853.5)" d="M0,-16.8L13.6,0L0,16.8L-13.6,0ZM0,-7.2L5.6,0L0,7.2L-5.6,0Z" fill="#000000" fill-rule="evenodd"/>
<path transform="translate(1251.87,874.9)" d="M0,-16.8L13.6,0L0,16.8L-13.6,0ZM0,-7.2L5.6,0L0,7.2L-5.6,0Z" fill="#000000" fill-rule="evenodd"/>
<path transform="translate(1280.34,856.9)" d="M0,-16.8L13.6,0L0,16.8L-13.6,0ZM0,-7.2L5.6,0L0,7.2L-5.6,0Z" fill="#000000" fill-rule="evenodd"/>
<path transform="translate(1308.81,874.2)" d="M0,-16.8L13.6,0L0,16.8L-13.6,0ZM0,-7.2L5.6,0L0,7.2L-5.6,0Z" fill="#000000" fill-rule="evenodd"/>
<path transform="translate(1337.28,864.6)" d="M0,-16.8L13.6,0L0,16.8L-13.6,0ZM0,-7.2L5.6,0L0,7.2L-5.6,0Z" fill="#000000" fill-rule="evenodd"/>
<path transform="translate(1365.74,870.4)" d="M0,-16.8L13.6,0L0,16.8L-13.6,0ZM0,-7.2L5.6,0L0,7.2L-5.6,0Z" fill="#000000" fill-rule="evenodd"/>
<path transform="translate(1394.21,892.8)" d="M0,-16.8L13.6,0L0,16.8L-13.6,0ZM0,-7.2L5.6,0L0,7.2L-5.6,0Z" fill="#000000" fill-rule="evenodd"/>
<path transform="translate(1422.68,891.5)" d="M0,-16.8L13.6,0L0,16.8L-13.6,0ZM0,-7.2L5.6,0L0,7.2L-5.6,0Z" fill="#000000" fill-rule="evenodd"/>
<path transform="translate(1451.15,881.9)" d="M0,-16.8L13.6,0L0,16.8L-13.6,0ZM0,-7.2L5.6,0L0,7.2L-5.6,0Z" fill="#000000" fill-rule="evenodd"/>
<path transform="translate(1479.62,877.4)" d="M0,-16.8L13.6,0L0,16.8L-13.6,0ZM0,-7.2L5.6,0L0,7.2L-5.6,0Z" fill="#000000" fill-rule="evenodd"/>
<path transform="translate(1508.09,872.3)" d="M0,-16.8L13.6,0L0,16.8L-13.6,0ZM0,-7.2L5.6,0L0,7.2L-5.6,0Z" fill="#000000" fill-rule="evenodd"/>
<path transform="translate(1536.56,876.2)" d="M0,-16.8L13.6,0L0,16.8L-13.6,0ZM0,-7.2L5.6,0L0,7.2L-5.6,0Z" fill="#000000" fill-rule="evenodd"/>
<path transform="translate(1565.03,870.4)" d="M0,-16.8L13.6,0L0,16.8L-13.6,0ZM0,-7.2L5.6,0L0,7.2L-5.6,0Z" fill="#000000" fill-rule="evenodd"/>
<path transform="translate(1593.5,862.7)" d="M0,-16.8L13.6,0L0,16.8L-13.6,0ZM0,-7.2L5.6,0L0,7.2L-5.6,0Z" fill="#000000" fill-rule="evenodd"/>
</g>
<g id="s-yellow">
<polyline points="198.5,935.2 226.97,966.4 255.44,981.1 283.91,999 312.38,981.3 340.85,1000.9 369.32,997 397.79,1005.8 426.26,985.6 454.72,984.7 483.19,986 511.66,983.8 540.13,983 568.6,997.2 597.07,989.9 625.54,994.8 654.01,981 682.48,989 710.95,986.5 739.42,992.3 767.89,991.4 796.36,1007 824.83,989.9 853.3,989.6 881.77,1000.3 910.23,986.2 938.7,998.4 967.17,996 995.64,1034.1 1024.11,995.7 1052.58,991.7 1081.05,979.2 1109.52,967.6 1137.99,985.3 1166.46,986.5 1194.93,989.9 1223.4,1000.3 1251.87,987.4 1280.34,981.9 1308.81,989.1 1337.28,977 1365.74,980.7 1394.21,993.8 1422.68,981 1451.15,990.5 1479.62,995 1508.09,981 1536.56,986.5 1565.03,985.6 1593.5,989" fill="none" stroke="#ffff00" stroke-width="6.2" stroke-linejoin="round"/>
<path transform="translate(198.5,935.2)" d="M-10.2,0H10.2M0,-10.2V10.2M-7.21,-7.21L7.21,7.21M-7.21,7.21L7.21,-7.21" fill="none" stroke="#ffff00" stroke-width="6.2"/>
<path transform="translate(226.97,966.4)" d="M-10.2,0H10.2M0,-10.2V10.2M-7.21,-7.21L7.21,7.21M-7.21,7.21L7.21,-7.21" fill="none" stroke="#ffff00" stroke-width="6.2"/>
<path transform="translate(255.44,981.1)" d="M-10.2,0H10.2M0,-10.2V10.2M-7.21,-7.21L7.21,7.21M-7.21,7.21L7.21,-7.21" fill="none" stroke="#ffff00" stroke-width="6.2"/>
<path transform="translate(283.91,999)" d="M-10.2,0H10.2M0,-10.2V10.2M-7.21,-7.21L7.21,7.21M-7.21,7.21L7.21,-7.21" fill="none" stroke="#ffff00" stroke-width="6.2"/>
<path transform="translate(312.38,981.3)" d="M-10.2,0H10.2M0,-10.2V10.2M-7.21,-7.21L7.21,7.21M-7.21,7.21L7.21,-7.21" fill="none" stroke="#ffff00" stroke-width="6.2"/>
<path transform="translate(340.85,1000.9)" d="M-10.2,0H10.2M0,-10.2V10.2M-7.21,-7.21L7.21,7.21M-7.21,7.21L7.21,-7.21" fill="none" stroke="#ffff00" stroke-width="6.2"/>
<path transform="translate(369.32,997)" d="M-10.2,0H10.2M0,-10.2V10.2M-7.21,-7.21L7.21,7.21M-7.21,7.21L7.21,-7.21" fill="none" stroke="#ffff00" stroke-width="6.2"/>
<path transform="translate(397.79,1005.8)" d="M-10.2,0H10.2M0,-10.2V10.2M-7.21,-7.21L7.21,7.21M-7.21,7.21L7.21,-7.21" fill="none" stroke="#ffff00" stroke-width="6.2"/>
<path transform="translate(426.26,985.6)" d="M-10.2,0H10.2M0,-10.2V10.2M-7.21,-7.21L7.21,7.21M-7.21,7.21L7.21,-7.21" fill="none" stroke="#ffff00" stroke-width="6.2"/>
<path transform="translate(454.72,984.7)" d="M-10.2,0H10.2M0,-10.2V10.2M-7.21,-7.21L7.21,7.21M-7.21,7.21L7.21,-7.21" fill="none" stroke="#ffff00" stroke-width="6.2"/>
<path transform="translate(483.19,986)" d="M-10.2,0H10.2M0,-10.2V10.2M-7.21,-7.21L7.21,7.21M-7.21,7.21L7.21,-7.21" fill="none" stroke="#ffff00" stroke-width="6.2"/>
<path transform="translate(511.66,983.8)" d="M-10.2,0H10.2M0,-10.2V10.2M-7.21,-7.21L7.21,7.21M-7.21,7.21L7.21,-7.21" fill="none" stroke="#ffff00" stroke-width="6.2"/>
<path transform="translate(540.13,983)" d="M-10.2,0H10.2M0,-10.2V10.2M-7.21,-7.21L7.21,7.21M-7.21,7.21L7.21,-7.21" fill="none" stroke="#ffff00" stroke-width="6.2"/>
<path transform="translate(568.6,997.2)" d="M-10.2,0H10.2M0,-10.2V10.2M-7.21,-7.21L7.21,7.21M-7.21,7.21L7.21,-7.21" fill="none" stroke="#ffff00" stroke-width="6.2"/>
<path transform="translate(597.07,989.9)" d="M-10.2,0H10.2M0,-10.2V10.2M-7.21,-7.21L7.21,7.21M-7.21,7.21L7.21,-7.21" fill="none" stroke="#ffff00" stroke-width="6.2"/>
<path transform="translate(625.54,994.8)" d="M-10.2,0H10.2M0,-10.2V10.2M-7.21,-7.21L7.21,7.21M-7.21,7.21L7.21,-7.21" fill="none" stroke="#ffff00" stroke-width="6.2"/>
<path transform="translate(654.01,981)" d="M-10.2,0H10.2M0,-10.2V10.2M-7.21,-7.21L7.21,7.21M-7.21,7.21L7.21,-7.21" fill="none" stroke="#ffff00" stroke-width="6.2"/>
<path transform="translate(682.48,989)" d="M-10.2,0H10.2M0,-10.2V10.2M-7.21,-7.21L7.21,7.21M-7.21,7.21L7.21,-7.21" fill="none" stroke="#ffff00" stroke-width="6.2"/>
<path transform="translate(710.95,986.5)" d="M-10.2,0H10.2M0,-10.2V10.2M-7.21,-7.21L7.21,7.21M-7.21,7.21L7.21,-7.21" fill="none" stroke="#ffff00" stroke-width="6.2"/>
<path transform="translate(739.42,992.3)" d="M-10.2,0H10.2M0,-10.2V10.2M-7.21,-7.21L7.21,7.21M-7.21,7.21L7.21,-7.21" fill="none" stroke="#ffff00" stroke-width="6.2"/>
<path transform="translate(767.89,991.4)" d="M-10.2,0H10.2M0,-10.2V10.2M-7.21,-7.21L7.21,7.21M-7.21,7.21L7.21,-7.21" fill="none" stroke="#ffff00" stroke-width="6.2"/>
<path transform="translate(796.36,1007)" d="M-10.2,0H10.2M0,-10.2V10.2M-7.21,-7.21L7.21,7.21M-7.21,7.21L7.21,-7.21" fill="none" stroke="#ffff00" stroke-width="6.2"/>
<path transform="translate(824.83,989.9)" d="M-10.2,0H10.2M0,-10.2V10.2M-7.21,-7.21L7.21,7.21M-7.21,7.21L7.21,-7.21" fill="none" stroke="#ffff00" stroke-width="6.2"/>
<path transform="translate(853.3,989.6)" d="M-10.2,0H10.2M0,-10.2V10.2M-7.21,-7.21L7.21,7.21M-7.21,7.21L7.21,-7.21" fill="none" stroke="#ffff00" stroke-width="6.2"/>
<path transform="translate(881.77,1000.3)" d="M-10.2,0H10.2M0,-10.2V10.2M-7.21,-7.21L7.21,7.21M-7.21,7.21L7.21,-7.21" fill="none" stroke="#ffff00" stroke-width="6.2"/>
<path transform="translate(910.23,986.2)" d="M-10.2,0H10.2M0,-10.2V10.2M-7.21,-7.21L7.21,7.21M-7.21,7.21L7.21,-7.21" fill="none" stroke="#ffff00" stroke-width="6.2"/>
<path transform="translate(938.7,998.4)" d="M-10.2,0H10.2M0,-10.2V10.2M-7.21,-7.21L7.21,7.21M-7.21,7.21L7.21,-7.21" fill="none" stroke="#ffff00" stroke-width="6.2"/>
<path transform="translate(967.17,996)" d="M-10.2,0H10.2M0,-10.2V10.2M-7.21,-7.21L7.21,7.21M-7.21,7.21L7.21,-7.21" fill="none" stroke="#ffff00" stroke-width="6.2"/>
<path transform="translate(995.64,1034.1)" d="M-10.2,0H10.2M0,-10.2V10.2M-7.21,-7.21L7.21,7.21M-7.21,7.21L7.21,-7.21" fill="none" stroke="#ffff00" stroke-width="6.2"/>
<path transform="translate(1024.11,995.7)" d="M-10.2,0H10.2M0,-10.2V10.2M-7.21,-7.21L7.21,7.21M-7.21,7.21L7.21,-7.21" fill="none" stroke="#ffff00" stroke-width="6.2"/>
<path transform="translate(1052.58,991.7)" d="M-10.2,0H10.2M0,-10.2V10.2M-7.21,-7.21L7.21,7.21M-7.21,7.21L7.21,-7.21" fill="none" stroke="#ffff00" stroke-width="6.2"/>
<path transform="translate(1081.05,979.2)" d="M-10.2,0H10.2M0,-10.2V10.2M-7.21,-7.21L7.21,7.21M-7.21,7.21L7.21,-7.21" fill="none" stroke="#ffff00" stroke-width="6.2"/>
<path transform="translate(1109.52,967.6)" d="M-10.2,0H10.2M0,-10.2V10.2M-7.21,-7.21L7.21,7.21M-7.21,7.21L7.21,-7.21" fill="none" stroke="#ffff00" stroke-width="6.2"/>
<path transform="translate(1137.99,985.3)" d="M-10.2,0H10.2M0,-10.2V10.2M-7.21,-7.21L7.21,7.21M-7.21,7.21L7.21,-7.21" fill="none" stroke="#ffff00" stroke-width="6.2"/>
<path transform="translate(1166.46,986.5)" d="M-10.2,0H10.2M0,-10.2V10.2M-7.21,-7.21L7.21,7.21M-7.21,7.21L7.21,-7.21" fill="none" stroke="#ffff00" stroke-width="6.2"/>
<path transform="translate(1194.93,989.9)" d="M-10.2,0H10.2M0,-10.2V10.2M-7.21,-7.21L7.21,7.21M-7.21,7.21L7.21,-7.21" fill="none" stroke="#ffff00" stroke-width="6.2"/>
<path transform="translate(1223.4,1000.3)" d="M-10.2,0H10.2M0,-10.2V10.2M-7.21,-7.21L7.21,7.21M-7.21,7.21L7.21,-7.21" fill="none" stroke="#ffff00" stroke-width="6.2"/>
<path transform="translate(1251.87,987.4)" d="M-10.2,0H10.2M0,-10.2V10.2M-7.21,-7.21L7.21,7.21M-7.21,7.21L7.21,-7.21" fill="none" stroke="#ffff00" stroke-width="6.2"/>
<path transform="translate(1280.34,981.9)" d="M-10.2,0H10.2M0,-10.2V10.2M-7.21,-7.21L7.21,7.21M-7.21,7.21L7.21,-7.21" fill="none" stroke="#ffff00" stroke-width="6.2"/>
<path transform="translate(1308.81,989.1)" d="M-10.2,0H10.2M0,-10.2V10.2M-7.21,-7.21L7.21,7.21M-7.21,7.21L7.21,-7.21" fill="none" stroke="#ffff00" stroke-width="6.2"/>
<path transform="translate(1337.28,977)" d="M-10.2,0H10.2M0,-10.2V10.2M-7.21,-7.21L7.21,7.21M-7.21,7.21L7.21,-7.21" fill="none" stroke="#ffff00" stroke-width="6.2"/>
<path transform="translate(1365.74,980.7)" d="M-10.2,0H10.2M0,-10.2V10.2M-7.21,-7.21L7.21,7.21M-7.21,7.21L7.21,-7.21" fill="none" stroke="#ffff00" stroke-width="6.2"/>
<path transform="translate(1394.21,993.8)" d="M-10.2,0H10.2M0,-10.2V10.2M-7.21,-7.21L7.21,7.21M-7.21,7.21L7.21,-7.21" fill="none" stroke="#ffff00" stroke-width="6.2"/>
<path transform="translate(1422.68,981)" d="M-10.2,0H10.2M0,-10.2V10.2M-7.21,-7.21L7.21,7.21M-7.21,7.21L7.21,-7.21" fill="none" stroke="#ffff00" stroke-width="6.2"/>
<path transform="translate(1451.15,990.5)" d="M-10.2,0H10.2M0,-10.2V10.2M-7.21,-7.21L7.21,7.21M-7.21,7.21L7.21,-7.21" fill="none" stroke="#ffff00" stroke-width="6.2"/>
<path transform="translate(1479.62,995)" d="M-10.2,0H10.2M0,-10.2V10.2M-7.21,-7.21L7.21,7.21M-7.21,7.21L7.21,-7.21" fill="none" stroke="#ffff00" stroke-width="6.2"/>
<path transform="translate(1508.09,981)" d="M-10.2,0H10.2M0,-10.2V10.2M-7.21,-7.21L7.21,7.21M-7.21,7.21L7.21,-7.21" fill="none" stroke="#ffff00" stroke-width="6.2"/>
<path transform="translate(1536.56,986.5)" d="M-10.2,0H10.2M0,-10.2V10.2M-7.21,-7.21L7.21,7.21M-7.21,7.21L7.21,-7.21" fill="none" stroke="#ffff00" stroke-width="6.2"/>
<path transform="translate(1565.03,985.6)" d="M-10.2,0H10.2M0,-10.2V10.2M-7.21,-7.21L7.21,7.21M-7.21,7.21L7.21,-7.21" fill="none" stroke="#ffff00" stroke-width="6.2"/>
<path transform="translate(1593.5,989)" d="M-10.2,0H10.2M0,-10.2V10.2M-7.21,-7.21L7.21,7.21M-7.21,7.21L7.21,-7.21" fill="none" stroke="#ffff00" stroke-width="6.2"/>
</g>
<g id="s-cyan">
<polyline points="198.5,1072.5 226.97,1062 255.44,1051.1 283.91,1049.3 312.38,1033.4 340.85,1041 369.32,1042.5 397.79,1039.1 426.26,1025.3 454.72,1023.4 483.19,1024.3 511.66,1022.1 540.13,1022.1 568.6,1027.7 597.07,1024.1 625.54,1024.1 654.01,1013.3 682.48,1017.9 710.95,1022.4 739.42,1026.3 767.89,1026.3 796.36,1033.4 824.83,1020.9 853.3,1024.3 881.77,1031.2 910.23,1020.6 938.7,1028.8 967.17,1030 995.64,1041.5 1024.11,1029.8 1052.58,1029.1 1081.05,1015.8 1109.52,1004.8 1137.99,1021.2 1166.46,1022.2 1194.93,1018 1223.4,1022.2 1251.87,1018 1280.34,1014.9 1308.81,1029.6 1337.28,1010.9 1365.74,1016.7 1394.21,1027 1422.68,1014.3 1451.15,1025.3 1479.62,1027.7 1508.09,1019.6 1536.56,1020.1 1565.03,1015.8 1593.5,1019.4" fill="none" stroke="#00ffff" stroke-width="6.2" stroke-linejoin="round"/>
<path transform="translate(198.5,1072.5)" d="M-10.55,-10.1H10.55V10.1H-10.55ZM-4.55,-3.9H4.55V3.9H-4.55Z" fill="#00ffff" fill-rule="evenodd"/>
<path transform="translate(226.97,1062)" d="M-10.55,-10.1H10.55V10.1H-10.55ZM-4.55,-3.9H4.55V3.9H-4.55Z" fill="#00ffff" fill-rule="evenodd"/>
<path transform="translate(255.44,1051.1)" d="M-10.55,-10.1H10.55V10.1H-10.55ZM-4.55,-3.9H4.55V3.9H-4.55Z" fill="#00ffff" fill-rule="evenodd"/>
<path transform="translate(283.91,1049.3)" d="M-10.55,-10.1H10.55V10.1H-10.55ZM-4.55,-3.9H4.55V3.9H-4.55Z" fill="#00ffff" fill-rule="evenodd"/>
<path transform="translate(312.38,1033.4)" d="M-10.55,-10.1H10.55V10.1H-10.55ZM-4.55,-3.9H4.55V3.9H-4.55Z" fill="#00ffff" fill-rule="evenodd"/>
<path transform="translate(340.85,1041)" d="M-10.55,-10.1H10.55V10.1H-10.55ZM-4.55,-3.9H4.55V3.9H-4.55Z" fill="#00ffff" fill-rule="evenodd"/>
<path transform="translate(369.32,1042.5)" d="M-10.55,-10.1H10.55V10.1H-10.55ZM-4.55,-3.9H4.55V3.9H-4.55Z" fill="#00ffff" fill-rule="evenodd"/>
<path transform="translate(397.79,1039.1)" d="M-10.55,-10.1H10.55V10.1H-10.55ZM-4.55,-3.9H4.55V3.9H-4.55Z" fill="#00ffff" fill-rule="evenodd"/>
<path transform="translate(426.26,1025.3)" d="M-10.55,-10.1H10.55V10.1H-10.55ZM-4.55,-3.9H4.55V3.9H-4.55Z" fill="#00ffff" fill-rule="evenodd"/>
<path transform="translate(454.72,1023.4)" d="M-10.55,-10.1H10.55V10.1H-10.55ZM-4.55,-3.9H4.55V3.9H-4.55Z" fill="#00ffff" fill-rule="evenodd"/>
<path transform="translate(483.19,1024.3)" d="M-10.55,-10.1H10.55V10.1H-10.55ZM-4.55,-3.9H4.55V3.9H-4.55Z" fill="#00ffff" fill-rule="evenodd"/>
<path transform="translate(511.66,1022.1)" d="M-10.55,-10.1H10.55V10.1H-10.55ZM-4.55,-3.9H4.55V3.9H-4.55Z" fill="#00ffff" fill-rule="evenodd"/>
<path transform="translate(540.13,1022.1)" d="M-10.55,-10.1H10.55V10.1H-10.55ZM-4.55,-3.9H4.55V3.9H-4.55Z" fill="#00ffff" fill-rule="evenodd"/>
<path transform="translate(568.6,1027.7)" d="M-10.55,-10.1H10.55V10.1H-10.55ZM-4.55,-3.9H4.55V3.9H-4.55Z" fill="#00ffff" fill-rule="evenodd"/>
<path transform="translate(597.07,1024.1)" d="M-10.55,-10.1H10.55V10.1H-10.55ZM-4.55,-3.9H4.55V3.9H-4.55Z" fill="#00ffff" fill-rule="evenodd"/>
<path transform="translate(625.54,1024.1)" d="M-10.55,-10.1H10.55V10.1H-10.55ZM-4.55,-3.9H4.55V3.9H-4.55Z" fill="#00ffff" fill-rule="evenodd"/>
<path transform="translate(654.01,1013.3)" d="M-10.55,-10.1H10.55V10.1H-10.55ZM-4.55,-3.9H4.55V3.9H-4.55Z" fill="#00ffff" fill-rule="evenodd"/>
<path transform="translate(682.48,1017.9)" d="M-10.55,-10.1H10.55V10.1H-10.55ZM-4.55,-3.9H4.55V3.9H-4.55Z" fill="#00ffff" fill-rule="evenodd"/>
<path transform="translate(710.95,1022.4)" d="M-10.55,-10.1H10.55V10.1H-10.55ZM-4.55,-3.9H4.55V3.9H-4.55Z" fill="#00ffff" fill-rule="evenodd"/>
<path transform="translate(739.42,1026.3)" d="M-10.55,-10.1H10.55V10.1H-10.55ZM-4.55,-3.9H4.55V3.9H-4.55Z" fill="#00ffff" fill-rule="evenodd"/>
<path transform="translate(767.89,1026.3)" d="M-10.55,-10.1H10.55V10.1H-10.55ZM-4.55,-3.9H4.55V3.9H-4.55Z" fill="#00ffff" fill-rule="evenodd"/>
<path transform="translate(796.36,1033.4)" d="M-10.55,-10.1H10.55V10.1H-10.55ZM-4.55,-3.9H4.55V3.9H-4.55Z" fill="#00ffff" fill-rule="evenodd"/>
<path transform="translate(824.83,1020.9)" d="M-10.55,-10.1H10.55V10.1H-10.55ZM-4.55,-3.9H4.55V3.9H-4.55Z" fill="#00ffff" fill-rule="evenodd"/>
<path transform="translate(853.3,1024.3)" d="M-10.55,-10.1H10.55V10.1H-10.55ZM-4.55,-3.9H4.55V3.9H-4.55Z" fill="#00ffff" fill-rule="evenodd"/>
<path transform="translate(881.77,1031.2)" d="M-10.55,-10.1H10.55V10.1H-10.55ZM-4.55,-3.9H4.55V3.9H-4.55Z" fill="#00ffff" fill-rule="evenodd"/>
<path transform="translate(910.23,1020.6)" d="M-10.55,-10.1H10.55V10.1H-10.55ZM-4.55,-3.9H4.55V3.9H-4.55Z" fill="#00ffff" fill-rule="evenodd"/>
<path transform="translate(938.7,1028.8)" d="M-10.55,-10.1H10.55V10.1H-10.55ZM-4.55,-3.9H4.55V3.9H-4.55Z" fill="#00ffff" fill-rule="evenodd"/>
<path transform="translate(967.17,1030)" d="M-10.55,-10.1H10.55V10.1H-10.55ZM-4.55,-3.9H4.55V3.9H-4.55Z" fill="#00ffff" fill-rule="evenodd"/>
<path transform="translate(995.64,1041.5)" d="M-10.55,-10.1H10.55V10.1H-10.55ZM-4.55,-3.9H4.55V3.9H-4.55Z" fill="#00ffff" fill-rule="evenodd"/>
<path transform="translate(1024.11,1029.8)" d="M-10.55,-10.1H10.55V10.1H-10.55ZM-4.55,-3.9H4.55V3.9H-4.55Z" fill="#00ffff" fill-rule="evenodd"/>
<path transform="translate(1052.58,1029.1)" d="M-10.55,-10.1H10.55V10.1H-10.55ZM-4.55,-3.9H4.55V3.9H-4.55Z" fill="#00ffff" fill-rule="evenodd"/>
<path transform="translate(1081.05,1015.8)" d="M-10.55,-10.1H10.55V10.1H-10.55ZM-4.55,-3.9H4.55V3.9H-4.55Z" fill="#00ffff" fill-rule="evenodd"/>
<path transform="translate(1109.52,1004.8)" d="M-10.55,-10.1H10.55V10.1H-10.55ZM-4.55,-3.9H4.55V3.9H-4.55Z" fill="#00ffff" fill-rule="evenodd"/>
<path transform="translate(1137.99,1021.2)" d="M-10.55,-10.1H10.55V10.1H-10.55ZM-4.55,-3.9H4.55V3.9H-4.55Z" fill="#00ffff" fill-rule="evenodd"/>
<path transform="translate(1166.46,1022.2)" d="M-10.55,-10.1H10.55V10.1H-10.55ZM-4.55,-3.9H4.55V3.9H-4.55Z" fill="#00ffff" fill-rule="evenodd"/>
<path transform="translate(1194.93,1018)" d="M-10.55,-10.1H10.55V10.1H-10.55ZM-4.55,-3.9H4.55V3.9H-4.55Z" fill="#00ffff" fill-rule="evenodd"/>
<path transform="translate(1223.4,1022.2)" d="M-10.55,-10.1H10.55V10.1H-10.55ZM-4.55,-3.9H4.55V3.9H-4.55Z" fill="#00ffff" fill-rule="evenodd"/>
<path transform="translate(1251.87,1018)" d="M-10.55,-10.1H10.55V10.1H-10.55ZM-4.55,-3.9H4.55V3.9H-4.55Z" fill="#00ffff" fill-rule="evenodd"/>
<path transform="translate(1280.34,1014.9)" d="M-10.55,-10.1H10.55V10.1H-10.55ZM-4.55,-3.9H4.55V3.9H-4.55Z" fill="#00ffff" fill-rule="evenodd"/>
<path transform="translate(1308.81,1029.6)" d="M-10.55,-10.1H10.55V10.1H-10.55ZM-4.55,-3.9H4.55V3.9H-4.55Z" fill="#00ffff" fill-rule="evenodd"/>
<path transform="translate(1337.28,1010.9)" d="M-10.55,-10.1H10.55V10.1H-10.55ZM-4.55,-3.9H4.55V3.9H-4.55Z" fill="#00ffff" fill-rule="evenodd"/>
<path transform="translate(1365.74,1016.7)" d="M-10.55,-10.1H10.55V10.1H-10.55ZM-4.55,-3.9H4.55V3.9H-4.55Z" fill="#00ffff" fill-rule="evenodd"/>
<path transform="translate(1394.21,1027)" d="M-10.55,-10.1H10.55V10.1H-10.55ZM-4.55,-3.9H4.55V3.9H-4.55Z" fill="#00ffff" fill-rule="evenodd"/>
<path transform="translate(1422.68,1014.3)" d="M-10.55,-10.1H10.55V10.1H-10.55ZM-4.55,-3.9H4.55V3.9H-4.55Z" fill="#00ffff" fill-rule="evenodd"/>
<path transform="translate(1451.15,1025.3)" d="M-10.55,-10.1H10.55V10.1H-10.55ZM-4.55,-3.9H4.55V3.9H-4.55Z" fill="#00ffff" fill-rule="evenodd"/>
<path transform="translate(1479.62,1027.7)" d="M-10.55,-10.1H10.55V10.1H-10.55ZM-4.55,-3.9H4.55V3.9H-4.55Z" fill="#00ffff" fill-rule="evenodd"/>
<path transform="translate(1508.09,1019.6)" d="M-10.55,-10.1H10.55V10.1H-10.55ZM-4.55,-3.9H4.55V3.9H-4.55Z" fill="#00ffff" fill-rule="evenodd"/>
<path transform="translate(1536.56,1020.1)" d="M-10.55,-10.1H10.55V10.1H-10.55ZM-4.55,-3.9H4.55V3.9H-4.55Z" fill="#00ffff" fill-rule="evenodd"/>
<path transform="translate(1565.03,1015.8)" d="M-10.55,-10.1H10.55V10.1H-10.55ZM-4.55,-3.9H4.55V3.9H-4.55Z" fill="#00ffff" fill-rule="evenodd"/>
<path transform="translate(1593.5,1019.4)" d="M-10.55,-10.1H10.55V10.1H-10.55ZM-4.55,-3.9H4.55V3.9H-4.55Z" fill="#00ffff" fill-rule="evenodd"/>
</g>
<g id="s-magenta">
<polyline points="198.5,1072.5 226.97,1063.3 255.44,1055.5 283.91,1052.4 312.38,1042.5 340.85,1046.5 369.32,1049.4 397.79,1051.1 426.26,1038.3 454.72,1035.4 483.19,1037.4 511.66,1037.4 540.13,1037.2 568.6,1043 597.07,1038.3 625.54,1039.6 654.01,1029.2 682.48,1031.4 710.95,1037.5 739.42,1041.4 767.89,1043.3 796.36,1044.2 824.83,1042.3 853.3,1041.4 881.77,1044.4 910.23,1036.9 938.7,1039.4 967.17,1038.4 995.64,1046.6 1024.11,1046.5 1052.58,1041.7 1081.05,1042.9 1109.52,1029.1 1137.99,1038.4 1166.46,1039.4 1194.93,1036.2 1223.4,1037.8 1251.87,1034 1280.34,1030.2 1308.81,1042.1 1337.28,1035.2 1365.74,1030.5 1394.21,1046.5 1422.68,1035.2 1451.15,1035.9 1479.62,1039.7 1508.09,1030.3 1536.56,1033.6 1565.03,1031.3 1593.5,1029.7" fill="none" stroke="#ff00ff" stroke-width="5.8" stroke-linejoin="round"/>
<path transform="translate(198.5,1072.5)" d="M-16.7,9.2L16.7,9.2L1.3,-17.2L-1.3,-17.2ZM-5.5,3.9L5.5,3.9L0,-5.6Z" fill="#ff00ff" fill-rule="evenodd"/>
<path transform="translate(226.97,1063.3)" d="M-16.7,9.2L16.7,9.2L1.3,-17.2L-1.3,-17.2ZM-5.5,3.9L5.5,3.9L0,-5.6Z" fill="#ff00ff" fill-rule="evenodd"/>
<path transform="translate(255.44,1055.5)" d="M-16.7,9.2L16.7,9.2L1.3,-17.2L-1.3,-17.2ZM-5.5,3.9L5.5,3.9L0,-5.6Z" fill="#ff00ff" fill-rule="evenodd"/>
<path transform="translate(283.91,1052.4)" d="M-16.7,9.2L16.7,9.2L1.3,-17.2L-1.3,-17.2ZM-5.5,3.9L5.5,3.9L0,-5.6Z" fill="#ff00ff" fill-rule="evenodd"/>
<path transform="translate(312.38,1042.5)" d="M-16.7,9.2L16.7,9.2L1.3,-17.2L-1.3,-17.2ZM-5.5,3.9L5.5,3.9L0,-5.6Z" fill="#ff00ff" fill-rule="evenodd"/>
<path transform="translate(340.85,1046.5)" d="M-16.7,9.2L16.7,9.2L1.3,-17.2L-1.3,-17.2ZM-5.5,3.9L5.5,3.9L0,-5.6Z" fill="#ff00ff" fill-rule="evenodd"/>
<path transform="translate(369.32,1049.4)" d="M-16.7,9.2L16.7,9.2L1.3,-17.2L-1.3,-17.2ZM-5.5,3.9L5.5,3.9L0,-5.6Z" fill="#ff00ff" fill-rule="evenodd"/>
<path transform="translate(397.79,1051.1)" d="M-16.7,9.2L16.7,9.2L1.3,-17.2L-1.3,-17.2ZM-5.5,3.9L5.5,3.9L0,-5.6Z" fill="#ff00ff" fill-rule="evenodd"/>
<path transform="translate(426.26,1038.3)" d="M-16.7,9.2L16.7,9.2L1.3,-17.2L-1.3,-17.2ZM-5.5,3.9L5.5,3.9L0,-5.6Z" fill="#ff00ff" fill-rule="evenodd"/>
<path transform="translate(454.72,1035.4)" d="M-16.7,9.2L16.7,9.2L1.3,-17.2L-1.3,-17.2ZM-5.5,3.9L5.5,3.9L0,-5.6Z" fill="#ff00ff" fill-rule="evenodd"/>
<path transform="translate(483.19,1037.4)" d="M-16.7,9.2L16.7,9.2L1.3,-17.2L-1.3,-17.2ZM-5.5,3.9L5.5,3.9L0,-5.6Z" fill="#ff00ff" fill-rule="evenodd"/>
<path transform="translate(511.66,1037.4)" d="M-16.7,9.2L16.7,9.2L1.3,-17.2L-1.3,-17.2ZM-5.5,3.9L5.5,3.9L0,-5.6Z" fill="#ff00ff" fill-rule="evenodd"/>
<path transform="translate(540.13,1037.2)" d="M-16.7,9.2L16.7,9.2L1.3,-17.2L-1.3,-17.2ZM-5.5,3.9L5.5,3.9L0,-5.6Z" fill="#ff00ff" fill-rule="evenodd"/>
<path transform="translate(568.6,1043)" d="M-16.7,9.2L16.7,9.2L1.3,-17.2L-1.3,-17.2ZM-5.5,3.9L5.5,3.9L0,-5.6Z" fill="#ff00ff" fill-rule="evenodd"/>
<path transform="translate(597.07,1038.3)" d="M-16.7,9.2L16.7,9.2L1.3,-17.2L-1.3,-17.2ZM-5.5,3.9L5.5,3.9L0,-5.6Z" fill="#ff00ff" fill-rule="evenodd"/>
<path transform="translate(625.54,1039.6)" d="M-16.7,9.2L16.7,9.2L1.3,-17.2L-1.3,-17.2ZM-5.5,3.9L5.5,3.9L0,-5.6Z" fill="#ff00ff" fill-rule="evenodd"/>
<path transform="translate(654.01,1029.2)" d="M-16.7,9.2L16.7,9.2L1.3,-17.2L-1.3,-17.2ZM-5.5,3.9L5.5,3.9L0,-5.6Z" fill="#ff00ff" fill-rule="evenodd"/>
<path transform="translate(682.48,1031.4)" d="M-16.7,9.2L16.7,9.2L1.3,-17.2L-1.3,-17.2ZM-5.5,3.9L5.5,3.9L0,-5.6Z" fill="#ff00ff" fill-rule="evenodd"/>
<path transform="translate(710.95,1037.5)" d="M-16.7,9.2L16.7,9.2L1.3,-17.2L-1.3,-17.2ZM-5.5,3.9L5.5,3.9L0,-5.6Z" fill="#ff00ff" fill-rule="evenodd"/>
<path transform="translate(739.42,1041.4)" d="M-16.7,9.2L16.7,9.2L1.3,-17.2L-1.3,-17.2ZM-5.5,3.9L5.5,3.9L0,-5.6Z" fill="#ff00ff" fill-rule="evenodd"/>
<path transform="translate(767.89,1043.3)" d="M-16.7,9.2L16.7,9.2L1.3,-17.2L-1.3,-17.2ZM-5.5,3.9L5.5,3.9L0,-5.6Z" fill="#ff00ff" fill-rule="evenodd"/>
<path transform="translate(796.36,1044.2)" d="M-16.7,9.2L16.7,9.2L1.3,-17.2L-1.3,-17.2ZM-5.5,3.9L5.5,3.9L0,-5.6Z" fill="#ff00ff" fill-rule="evenodd"/>
<path transform="translate(824.83,1042.3)" d="M-16.7,9.2L16.7,9.2L1.3,-17.2L-1.3,-17.2ZM-5.5,3.9L5.5,3.9L0,-5.6Z" fill="#ff00ff" fill-rule="evenodd"/>
<path transform="translate(853.3,1041.4)" d="M-16.7,9.2L16.7,9.2L1.3,-17.2L-1.3,-17.2ZM-5.5,3.9L5.5,3.9L0,-5.6Z" fill="#ff00ff" fill-rule="evenodd"/>
<path transform="translate(881.77,1044.4)" d="M-16.7,9.2L16.7,9.2L1.3,-17.2L-1.3,-17.2ZM-5.5,3.9L5.5,3.9L0,-5.6Z" fill="#ff00ff" fill-rule="evenodd"/>
<path transform="translate(910.23,1036.9)" d="M-16.7,9.2L16.7,9.2L1.3,-17.2L-1.3,-17.2ZM-5.5,3.9L5.5,3.9L0,-5.6Z" fill="#ff00ff" fill-rule="evenodd"/>
<path transform="translate(938.7,1039.4)" d="M-16.7,9.2L16.7,9.2L1.3,-17.2L-1.3,-17.2ZM-5.5,3.9L5.5,3.9L0,-5.6Z" fill="#ff00ff" fill-rule="evenodd"/>
<path transform="translate(967.17,1038.4)" d="M-16.7,9.2L16.7,9.2L1.3,-17.2L-1.3,-17.2ZM-5.5,3.9L5.5,3.9L0,-5.6Z" fill="#ff00ff" fill-rule="evenodd"/>
<path transform="translate(995.64,1046.6)" d="M-16.7,9.2L16.7,9.2L1.3,-17.2L-1.3,-17.2ZM-5.5,3.9L5.5,3.9L0,-5.6Z" fill="#ff00ff" fill-rule="evenodd"/>
<path transform="translate(1024.11,1046.5)" d="M-16.7,9.2L16.7,9.2L1.3,-17.2L-1.3,-17.2ZM-5.5,3.9L5.5,3.9L0,-5.6Z" fill="#ff00ff" fill-rule="evenodd"/>
<path transform="translate(1052.58,1041.7)" d="M-16.7,9.2L16.7,9.2L1.3,-17.2L-1.3,-17.2ZM-5.5,3.9L5.5,3.9L0,-5.6Z" fill="#ff00ff" fill-rule="evenodd"/>
<path transform="translate(1081.05,1042.9)" d="M-16.7,9.2L16.7,9.2L1.3,-17.2L-1.3,-17.2ZM-5.5,3.9L5.5,3.9L0,-5.6Z" fill="#ff00ff" fill-rule="evenodd"/>
<path transform="translate(1109.52,1029.1)" d="M-16.7,9.2L16.7,9.2L1.3,-17.2L-1.3,-17.2ZM-5.5,3.9L5.5,3.9L0,-5.6Z" fill="#ff00ff" fill-rule="evenodd"/>
<path transform="translate(1137.99,1038.4)" d="M-16.7,9.2L16.7,9.2L1.3,-17.2L-1.3,-17.2ZM-5.5,3.9L5.5,3.9L0,-5.6Z" fill="#ff00ff" fill-rule="evenodd"/>
<path transform="translate(1166.46,1039.4)" d="M-16.7,9.2L16.7,9.2L1.3,-17.2L-1.3,-17.2ZM-5.5,3.9L5.5,3.9L0,-5.6Z" fill="#ff00ff" fill-rule="evenodd"/>
<path transform="translate(1194.93,1036.2)" d="M-16.7,9.2L16.7,9.2L1.3,-17.2L-1.3,-17.2ZM-5.5,3.9L5.5,3.9L0,-5.6Z" fill="#ff00ff" fill-rule="evenodd"/>
<path transform="translate(1223.4,1037.8)" d="M-16.7,9.2L16.7,9.2L1.3,-17.2L-1.3,-17.2ZM-5.5,3.9L5.5,3.9L0,-5.6Z" fill="#ff00ff" fill-rule="evenodd"/>
<path transform="translate(1251.87,1034)" d="M-16.7,9.2L16.7,9.2L1.3,-17.2L-1.3,-17.2ZM-5.5,3.9L5.5,3.9L0,-5.6Z" fill="#ff00ff" fill-rule="evenodd"/>
<path transform="translate(1280.34,1030.2)" d="M-16.7,9.2L16.7,9.2L1.3,-17.2L-1.3,-17.2ZM-5.5,3.9L5.5,3.9L0,-5.6Z" fill="#ff00ff" fill-rule="evenodd"/>
<path transform="translate(1308.81,1042.1)" d="M-16.7,9.2L16.7,9.2L1.3,-17.2L-1.3,-17.2ZM-5.5,3.9L5.5,3.9L0,-5.6Z" fill="#ff00ff" fill-rule="evenodd"/>
<path transform="translate(1337.28,1035.2)" d="M-16.7,9.2L16.7,9.2L1.3,-17.2L-1.3,-17.2ZM-5.5,3.9L5.5,3.9L0,-5.6Z" fill="#ff00ff" fill-rule="evenodd"/>
<path transform="translate(1365.74,1030.5)" d="M-16.7,9.2L16.7,9.2L1.3,-17.2L-1.3,-17.2ZM-5.5,3.9L5.5,3.9L0,-5.6Z" fill="#ff00ff" fill-rule="evenodd"/>
<path transform="translate(1394.21,1046.5)" d="M-16.7,9.2L16.7,9.2L1.3,-17.2L-1.3,-17.2ZM-5.5,3.9L5.5,3.9L0,-5.6Z" fill="#ff00ff" fill-rule="evenodd"/>
<path transform="translate(1422.68,1035.2)" d="M-16.7,9.2L16.7,9.2L1.3,-17.2L-1.3,-17.2ZM-5.5,3.9L5.5,3.9L0,-5.6Z" fill="#ff00ff" fill-rule="evenodd"/>
<path transform="translate(1451.15,1035.9)" d="M-16.7,9.2L16.7,9.2L1.3,-17.2L-1.3,-17.2ZM-5.5,3.9L5.5,3.9L0,-5.6Z" fill="#ff00ff" fill-rule="evenodd"/>
<path transform="translate(1479.62,1039.7)" d="M-16.7,9.2L16.7,9.2L1.3,-17.2L-1.3,-17.2ZM-5.5,3.9L5.5,3.9L0,-5.6Z" fill="#ff00ff" fill-rule="evenodd"/>
<path transform="translate(1508.09,1030.3)" d="M-16.7,9.2L16.7,9.2L1.3,-17.2L-1.3,-17.2ZM-5.5,3.9L5.5,3.9L0,-5.6Z" fill="#ff00ff" fill-rule="evenodd"/>
<path transform="translate(1536.56,1033.6)" d="M-16.7,9.2L16.7,9.2L1.3,-17.2L-1.3,-17.2ZM-5.5,3.9L5.5,3.9L0,-5.6Z" fill="#ff00ff" fill-rule="evenodd"/>
<path transform="translate(1565.03,1031.3)" d="M-16.7,9.2L16.7,9.2L1.3,-17.2L-1.3,-17.2ZM-5.5,3.9L5.5,3.9L0,-5.6Z" fill="#ff00ff" fill-rule="evenodd"/>
<path transform="translate(1593.5,1029.7)" d="M-16.7,9.2L16.7,9.2L1.3,-17.2L-1.3,-17.2ZM-5.5,3.9L5.5,3.9L0,-5.6Z" fill="#ff00ff" fill-rule="evenodd"/>
</g>
<rect x="225" y="69" width="438" height="460" fill="#ffffff"/>
<path d="M226,69V529M225,70H663" fill="none" stroke="#0d0d0d" stroke-width="2"/>
<path d="M661.5,69V529M225,527.5H663" fill="none" stroke="#1e1e1e" stroke-width="3"/>
<path d="M234.9,106.45H335.1" stroke="#00ff00" stroke-width="5.2" fill="none"/>
<circle transform="translate(285.5,106.45)" r="9.45" fill="none" stroke="#00ff00" stroke-width="6.3"/>
<text x="343.4" y="126.05" font-size="53.45" fill="#000000">EKF</text>
<path d="M234.9,170.4H335.1" stroke="#0000ff" stroke-width="5.2" fill="none"/>
<polygon transform="translate(285.5,170.4)" points="0,-17.5 4.4,-5.5 17.5,-5.5 16,-3.6 7.2,2.4 10.6,13.6 9,13.6 0,7.4 -9,13.6 -10.6,13.6 -7.2,2.4 -16,-3.6 -17.5,-5.5 -4.4,-5.5" fill="#0000ff"/>
<text x="342.1" y="190" font-size="53.45" fill="#000000">MCCEKF</text>
<path d="M234.9,235.05H335.1" stroke="#ff0000" stroke-width="6" fill="none"/>
<path transform="translate(285.5,235.05)" d="M-16.7,-9.2L16.7,-9.2L1.3,17.2L-1.3,17.2ZM-5.5,-3.9L5.5,-3.9L0,5.6Z" fill="#ff0000" fill-rule="evenodd"/>
<text x="343.4" y="254.65" font-size="53.45" fill="#000000">EnUKF</text>
<path d="M234.9,299.15H335.1" stroke="#000000" stroke-width="6" fill="none"/>
<path transform="translate(285.5,299.15)" d="M0,-17L11.15,-3.74V3.74L0,17L-11.15,3.74V-3.74ZM0,-7.2L5.6,0L0,7.2L-5.6,0Z" fill="#000000" fill-rule="evenodd"/>
<text x="343.4" y="318.75" font-size="53.45" fill="#000000">UKF</text>
<path d="M234.9,363H335.1" stroke="#ffff00" stroke-width="6.2" fill="none"/>
<path transform="translate(285.5,363)" d="M-10.2,0H10.2M0,-10.2V10.2M-7.21,-7.21L7.21,7.21M-7.21,7.21L7.21,-7.21" fill="none" stroke="#ffff00" stroke-width="6.2"/>
<text x="342.1" y="382.6" font-size="53.45" fill="#000000">MCUF</text>
<path d="M234.9,427H335.1" stroke="#00ffff" stroke-width="6.2" fill="none"/>
<path transform="translate(285.5,427)" d="M-10.55,-10.1H10.55V10.1H-10.55ZM-4.55,-3.9H4.55V3.9H-4.55Z" fill="#00ffff" fill-rule="evenodd"/>
<text x="342.1" y="446.6" font-size="53.45" fill="#000000">MVCUKF</text>
<path d="M234.9,491.47H335.1" stroke="#ff00ff" stroke-width="5.2" fill="none"/>
<path transform="translate(285.5,491.47)" d="M-16.7,9.2L16.7,9.2L1.3,-17.2L-1.3,-17.2ZM-5.5,3.9L5.5,3.9L0,-5.6Z" fill="#ff00ff" fill-rule="evenodd"/>
<text x="343.4" y="511.07" font-size="53.45" fill="#000000">En-MVCUKF</text>
</svg>
</body></html>
